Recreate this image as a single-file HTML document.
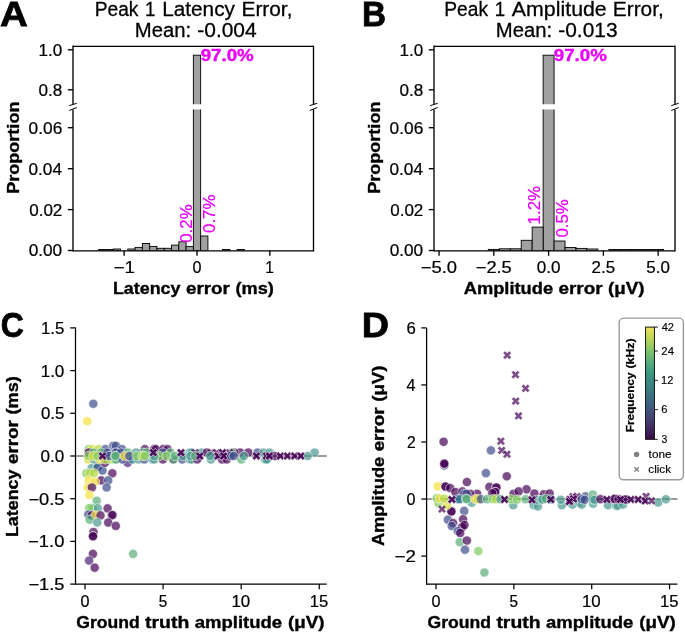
<!DOCTYPE html>
<html><head><meta charset="utf-8"><title>Peak 1 error figure</title>
<style>
html,body{margin:0;padding:0;background:#fff;}
svg{display:block;font-family:"Liberation Sans",sans-serif;will-change:transform;}
</style></head><body>
<svg width="685" height="632" viewBox="0 0 685 632">

<text x="-0.01" y="25.6" font-size="35.32" font-weight="bold" stroke="#000" stroke-width="0.77" fill="#000" textLength="27.8" lengthAdjust="spacingAndGlyphs">A</text>
<text x="362.08" y="25.6" font-size="35.32" font-weight="bold" stroke="#000" stroke-width="0.77" fill="#000" textLength="24.02" lengthAdjust="spacingAndGlyphs">B</text>
<text x="0.79" y="336.6" font-size="35.32" font-weight="bold" stroke="#000" stroke-width="0.77" fill="#000" textLength="23.15" lengthAdjust="spacingAndGlyphs">C</text>
<text x="361.87" y="336.6" font-size="35.32" font-weight="bold" stroke="#000" stroke-width="0.77" fill="#000" textLength="27.3" lengthAdjust="spacingAndGlyphs">D</text>
<text x="94.71" y="16.1" font-size="19.38" stroke="#000" stroke-width="0.27" fill="#000" textLength="43.72" lengthAdjust="spacingAndGlyphs">Peak</text>
<text x="145.02" y="16.1" font-size="19.38" stroke="#000" stroke-width="0.27" fill="#000" textLength="10.39" lengthAdjust="spacingAndGlyphs">1</text>
<text x="162.22" y="16.1" font-size="19.38" stroke="#000" stroke-width="0.27" fill="#000" textLength="72.69" lengthAdjust="spacingAndGlyphs">Latency</text>
<text x="241.47" y="16.1" font-size="19.38" stroke="#000" stroke-width="0.27" fill="#000" textLength="50.99" lengthAdjust="spacingAndGlyphs">Error,</text>
<text x="134.78" y="36.9" font-size="19.38" stroke="#000" stroke-width="0.27" fill="#000" textLength="56.32" lengthAdjust="spacingAndGlyphs">Mean:</text>
<text x="197.28" y="36.9" font-size="19.38" stroke="#000" stroke-width="0.27" fill="#000" textLength="59.4" lengthAdjust="spacingAndGlyphs">-0.004</text>
<text x="444.34" y="16.1" font-size="19.38" stroke="#000" stroke-width="0.27" fill="#000" textLength="43.72" lengthAdjust="spacingAndGlyphs">Peak</text>
<text x="494.65" y="16.1" font-size="19.38" stroke="#000" stroke-width="0.27" fill="#000" textLength="10.39" lengthAdjust="spacingAndGlyphs">1</text>
<text x="511.84" y="16.1" font-size="19.38" stroke="#000" stroke-width="0.27" fill="#000" textLength="94.92" lengthAdjust="spacingAndGlyphs">Amplitude</text>
<text x="612.84" y="16.1" font-size="19.38" stroke="#000" stroke-width="0.27" fill="#000" textLength="50.99" lengthAdjust="spacingAndGlyphs">Error,</text>
<text x="495.8" y="36.9" font-size="19.38" stroke="#000" stroke-width="0.27" fill="#000" textLength="56.32" lengthAdjust="spacingAndGlyphs">Mean:</text>
<text x="558.3" y="36.9" font-size="19.38" stroke="#000" stroke-width="0.27" fill="#000" textLength="59.25" lengthAdjust="spacingAndGlyphs">-0.013</text>
<defs><clipPath id="cu73"><rect x="73" y="46.2" width="240.5" height="58"/></clipPath><clipPath id="cl73"><rect x="73" y="109.4" width="240.5" height="141.1"/></clipPath></defs>
<g clip-path="url(#cu73)"><rect x="193.36" y="55.2" width="7.29" height="80" fill="#a0a0a0" stroke="#000" stroke-width="0.9"/></g>
<g clip-path="url(#cl73)">
<rect x="193.36" y="90" width="7.29" height="160.5" fill="#a0a0a0" stroke="#000" stroke-width="0.9"/>
<rect x="98.65" y="249.5" width="7.28" height="1" fill="#a0a0a0" stroke="#000" stroke-width="0.9"/>
<rect x="105.94" y="249.5" width="7.28" height="1" fill="#a0a0a0" stroke="#000" stroke-width="0.9"/>
<rect x="113.22" y="249" width="7.28" height="1.5" fill="#a0a0a0" stroke="#000" stroke-width="0.9"/>
<rect x="127.79" y="249" width="7.29" height="1.5" fill="#a0a0a0" stroke="#000" stroke-width="0.9"/>
<rect x="135.08" y="247.4" width="7.29" height="3.1" fill="#a0a0a0" stroke="#000" stroke-width="0.9"/>
<rect x="142.36" y="243.5" width="7.29" height="7" fill="#a0a0a0" stroke="#000" stroke-width="0.9"/>
<rect x="149.65" y="246.4" width="7.29" height="4.1" fill="#a0a0a0" stroke="#000" stroke-width="0.9"/>
<rect x="156.93" y="248.3" width="7.29" height="2.2" fill="#a0a0a0" stroke="#000" stroke-width="0.9"/>
<rect x="164.22" y="248.3" width="7.29" height="2.2" fill="#a0a0a0" stroke="#000" stroke-width="0.9"/>
<rect x="171.5" y="245.1" width="7.29" height="5.4" fill="#a0a0a0" stroke="#000" stroke-width="0.9"/>
<rect x="178.79" y="241.8" width="7.29" height="8.7" fill="#a0a0a0" stroke="#000" stroke-width="0.9"/>
<rect x="186.07" y="246.6" width="7.29" height="3.9" fill="#a0a0a0" stroke="#000" stroke-width="0.9"/>
<rect x="200.64" y="236" width="7.29" height="14.5" fill="#a0a0a0" stroke="#000" stroke-width="0.9"/>
<rect x="222.5" y="249.5" width="7.29" height="1" fill="#a0a0a0" stroke="#000" stroke-width="0.9"/>
<rect x="237.07" y="249.5" width="7.29" height="1" fill="#a0a0a0" stroke="#000" stroke-width="0.9"/>
</g>
<line x1="73" y1="46.3" x2="313.5" y2="46.3" stroke="#000" stroke-width="1.35"/>
<line x1="73" y1="45.62" x2="73" y2="104.2" stroke="#000" stroke-width="1.35"/>
<line x1="313.5" y1="45.62" x2="313.5" y2="104.2" stroke="#000" stroke-width="1.35"/>
<line x1="73" y1="109.4" x2="73" y2="251.48" stroke="#000" stroke-width="1.35"/>
<line x1="313.5" y1="109.4" x2="313.5" y2="251.48" stroke="#000" stroke-width="1.35"/>
<line x1="73" y1="250.8" x2="313.5" y2="250.8" stroke="#000" stroke-width="1.35"/>
<line x1="69.25" y1="105.6" x2="76.75" y2="103.3" stroke="#000" stroke-width="1"/>
<line x1="69.25" y1="110.5" x2="76.75" y2="107.5" stroke="#000" stroke-width="1"/>
<line x1="309.75" y1="105.6" x2="317.25" y2="103.3" stroke="#000" stroke-width="1"/>
<line x1="309.75" y1="110.5" x2="317.25" y2="107.5" stroke="#000" stroke-width="1"/>
<line x1="67.8" y1="49.8" x2="73" y2="49.8" stroke="#000" stroke-width="1.35"/>
<text x="38.48" y="55.7" font-size="16.05" stroke="#000" stroke-width="0.22" fill="#000" textLength="23.68" lengthAdjust="spacingAndGlyphs">1.0</text>
<line x1="67.8" y1="89.8" x2="73" y2="89.8" stroke="#000" stroke-width="1.35"/>
<text x="38.47" y="95.7" font-size="16.05" stroke="#000" stroke-width="0.22" fill="#000" textLength="23.78" lengthAdjust="spacingAndGlyphs">0.8</text>
<line x1="67.8" y1="127.7" x2="73" y2="127.7" stroke="#000" stroke-width="1.35"/>
<text x="28.6" y="133.6" font-size="16.05" stroke="#000" stroke-width="0.22" fill="#000" textLength="33.66" lengthAdjust="spacingAndGlyphs">0.06</text>
<line x1="67.8" y1="168.7" x2="73" y2="168.7" stroke="#000" stroke-width="1.35"/>
<text x="28.5" y="174.6" font-size="16.05" stroke="#000" stroke-width="0.22" fill="#000" textLength="33.5" lengthAdjust="spacingAndGlyphs">0.04</text>
<line x1="67.8" y1="209.6" x2="73" y2="209.6" stroke="#000" stroke-width="1.35"/>
<text x="29.18" y="215.5" font-size="16.05" stroke="#000" stroke-width="0.22" fill="#000" textLength="33.17" lengthAdjust="spacingAndGlyphs">0.02</text>
<line x1="67.8" y1="250.5" x2="73" y2="250.5" stroke="#000" stroke-width="1.35"/>
<text x="28.66" y="256.4" font-size="16.05" stroke="#000" stroke-width="0.22" fill="#000" textLength="33.51" lengthAdjust="spacingAndGlyphs">0.00</text>
<line x1="124.15" y1="250.5" x2="124.15" y2="255.8" stroke="#000" stroke-width="1.35"/>
<text x="113.42" y="273.4" font-size="16.05" stroke="#000" stroke-width="0.22" fill="#000" textLength="21.44" lengthAdjust="spacingAndGlyphs">−1</text>
<line x1="197" y1="250.5" x2="197" y2="255.8" stroke="#000" stroke-width="1.35"/>
<text x="192.5" y="273.4" font-size="16.05" stroke="#000" stroke-width="0.22" fill="#000" textLength="9" lengthAdjust="spacingAndGlyphs">0</text>
<line x1="269.85" y1="250.5" x2="269.85" y2="255.8" stroke="#000" stroke-width="1.35"/>
<text x="265.34" y="273.4" font-size="16.05" stroke="#000" stroke-width="0.22" fill="#000" textLength="8.6" lengthAdjust="spacingAndGlyphs">1</text>
<text x="112.9" y="294.1" font-size="16.05" font-weight="bold" stroke="#000" stroke-width="0.35" fill="#000" textLength="67.57" lengthAdjust="spacingAndGlyphs">Latency</text>
<text x="185.92" y="294.1" font-size="16.05" font-weight="bold" stroke="#000" stroke-width="0.35" fill="#000" textLength="44.01" lengthAdjust="spacingAndGlyphs">error</text>
<text x="235.45" y="294.1" font-size="16.05" font-weight="bold" stroke="#000" stroke-width="0.35" fill="#000" textLength="38.36" lengthAdjust="spacingAndGlyphs">(ms)</text>
<text transform="translate(18.5,193.85) rotate(-90)" x="0" y="0" font-size="16.05" font-weight="bold" stroke="#000" stroke-width="0.35" fill="#000" textLength="92.32" lengthAdjust="spacingAndGlyphs">Proportion</text>
<text x="200.65" y="60.7" font-size="16.05" font-weight="bold" stroke="#e800fa" stroke-width="0.35" fill="#e800fa" textLength="53.15" lengthAdjust="spacingAndGlyphs">97.0%</text>
<text transform="translate(191.6,242.76) rotate(-90)" x="0" y="0" font-size="16.05" stroke="#e800fa" stroke-width="0.22" fill="#e800fa" textLength="38.42" lengthAdjust="spacingAndGlyphs">0.2%</text>
<text transform="translate(215,232.96) rotate(-90)" x="0" y="0" font-size="16.05" stroke="#e800fa" stroke-width="0.22" fill="#e800fa" textLength="38.42" lengthAdjust="spacingAndGlyphs">0.7%</text>
<defs><clipPath id="cu434"><rect x="434" y="46.2" width="241" height="58"/></clipPath><clipPath id="cl434"><rect x="434" y="109.4" width="241" height="141.1"/></clipPath></defs>
<g clip-path="url(#cu434)"><rect x="543.12" y="55.2" width="10.95" height="80" fill="#a0a0a0" stroke="#000" stroke-width="0.9"/></g>
<g clip-path="url(#cl434)">
<rect x="543.12" y="90" width="10.95" height="160.5" fill="#a0a0a0" stroke="#000" stroke-width="0.9"/>
<rect x="488.35" y="249.4" width="10.96" height="1.1" fill="#a0a0a0" stroke="#000" stroke-width="0.9"/>
<rect x="499.3" y="248.8" width="10.96" height="1.7" fill="#a0a0a0" stroke="#000" stroke-width="0.9"/>
<rect x="510.26" y="248.8" width="10.95" height="1.7" fill="#a0a0a0" stroke="#000" stroke-width="0.9"/>
<rect x="521.21" y="240.3" width="10.95" height="10.2" fill="#a0a0a0" stroke="#000" stroke-width="0.9"/>
<rect x="532.17" y="227.1" width="10.95" height="23.4" fill="#a0a0a0" stroke="#000" stroke-width="0.9"/>
<rect x="554.08" y="241" width="10.95" height="9.5" fill="#a0a0a0" stroke="#000" stroke-width="0.9"/>
<rect x="565.03" y="247.5" width="10.95" height="3" fill="#a0a0a0" stroke="#000" stroke-width="0.9"/>
<rect x="575.99" y="248.4" width="10.95" height="2.1" fill="#a0a0a0" stroke="#000" stroke-width="0.9"/>
<rect x="586.94" y="249" width="10.95" height="1.5" fill="#a0a0a0" stroke="#000" stroke-width="0.9"/>
<rect x="608.85" y="249.5" width="10.95" height="1" fill="#a0a0a0" stroke="#000" stroke-width="0.9"/>
<rect x="619.81" y="249.5" width="10.95" height="1" fill="#a0a0a0" stroke="#000" stroke-width="0.9"/>
<rect x="630.76" y="249.5" width="10.95" height="1" fill="#a0a0a0" stroke="#000" stroke-width="0.9"/>
<rect x="641.72" y="249.5" width="10.95" height="1" fill="#a0a0a0" stroke="#000" stroke-width="0.9"/>
<rect x="652.67" y="249.5" width="10.95" height="1" fill="#a0a0a0" stroke="#000" stroke-width="0.9"/>
</g>
<line x1="434" y1="46.3" x2="675" y2="46.3" stroke="#000" stroke-width="1.35"/>
<line x1="434" y1="45.62" x2="434" y2="104.2" stroke="#000" stroke-width="1.35"/>
<line x1="675" y1="45.62" x2="675" y2="104.2" stroke="#000" stroke-width="1.35"/>
<line x1="434" y1="109.4" x2="434" y2="251.48" stroke="#000" stroke-width="1.35"/>
<line x1="675" y1="109.4" x2="675" y2="251.48" stroke="#000" stroke-width="1.35"/>
<line x1="434" y1="250.8" x2="675" y2="250.8" stroke="#000" stroke-width="1.35"/>
<line x1="430.25" y1="105.6" x2="437.75" y2="103.3" stroke="#000" stroke-width="1"/>
<line x1="430.25" y1="110.5" x2="437.75" y2="107.5" stroke="#000" stroke-width="1"/>
<line x1="671.25" y1="105.6" x2="678.75" y2="103.3" stroke="#000" stroke-width="1"/>
<line x1="671.25" y1="110.5" x2="678.75" y2="107.5" stroke="#000" stroke-width="1"/>
<line x1="428.8" y1="49.8" x2="434" y2="49.8" stroke="#000" stroke-width="1.35"/>
<text x="399.48" y="55.7" font-size="16.05" stroke="#000" stroke-width="0.22" fill="#000" textLength="23.68" lengthAdjust="spacingAndGlyphs">1.0</text>
<line x1="428.8" y1="89.8" x2="434" y2="89.8" stroke="#000" stroke-width="1.35"/>
<text x="399.47" y="95.7" font-size="16.05" stroke="#000" stroke-width="0.22" fill="#000" textLength="23.78" lengthAdjust="spacingAndGlyphs">0.8</text>
<line x1="428.8" y1="127.7" x2="434" y2="127.7" stroke="#000" stroke-width="1.35"/>
<text x="389.6" y="133.6" font-size="16.05" stroke="#000" stroke-width="0.22" fill="#000" textLength="33.66" lengthAdjust="spacingAndGlyphs">0.06</text>
<line x1="428.8" y1="168.7" x2="434" y2="168.7" stroke="#000" stroke-width="1.35"/>
<text x="389.5" y="174.6" font-size="16.05" stroke="#000" stroke-width="0.22" fill="#000" textLength="33.5" lengthAdjust="spacingAndGlyphs">0.04</text>
<line x1="428.8" y1="209.6" x2="434" y2="209.6" stroke="#000" stroke-width="1.35"/>
<text x="390.18" y="215.5" font-size="16.05" stroke="#000" stroke-width="0.22" fill="#000" textLength="33.17" lengthAdjust="spacingAndGlyphs">0.02</text>
<line x1="428.8" y1="250.5" x2="434" y2="250.5" stroke="#000" stroke-width="1.35"/>
<text x="389.66" y="256.4" font-size="16.05" stroke="#000" stroke-width="0.22" fill="#000" textLength="33.51" lengthAdjust="spacingAndGlyphs">0.00</text>
<line x1="439.05" y1="250.5" x2="439.05" y2="255.8" stroke="#000" stroke-width="1.35"/>
<text x="420.82" y="273.4" font-size="16.05" stroke="#000" stroke-width="0.22" fill="#000" textLength="36.27" lengthAdjust="spacingAndGlyphs">−5.0</text>
<line x1="493.83" y1="250.5" x2="493.83" y2="255.8" stroke="#000" stroke-width="1.35"/>
<text x="475.76" y="273.4" font-size="16.05" stroke="#000" stroke-width="0.22" fill="#000" textLength="35.99" lengthAdjust="spacingAndGlyphs">−2.5</text>
<line x1="548.6" y1="250.5" x2="548.6" y2="255.8" stroke="#000" stroke-width="1.35"/>
<text x="536.74" y="273.4" font-size="16.05" stroke="#000" stroke-width="0.22" fill="#000" textLength="23.73" lengthAdjust="spacingAndGlyphs">0.0</text>
<line x1="603.38" y1="250.5" x2="603.38" y2="255.8" stroke="#000" stroke-width="1.35"/>
<text x="591.54" y="273.4" font-size="16.05" stroke="#000" stroke-width="0.22" fill="#000" textLength="23.52" lengthAdjust="spacingAndGlyphs">2.5</text>
<line x1="658.15" y1="250.5" x2="658.15" y2="255.8" stroke="#000" stroke-width="1.35"/>
<text x="646.36" y="273.4" font-size="16.05" stroke="#000" stroke-width="0.22" fill="#000" textLength="23.56" lengthAdjust="spacingAndGlyphs">5.0</text>
<text x="463.73" y="294.1" font-size="16.05" font-weight="bold" stroke="#000" stroke-width="0.35" fill="#000" textLength="89.37" lengthAdjust="spacingAndGlyphs">Amplitude</text>
<text x="558.49" y="294.1" font-size="16.05" font-weight="bold" stroke="#000" stroke-width="0.35" fill="#000" textLength="44.01" lengthAdjust="spacingAndGlyphs">error</text>
<text x="607.99" y="294.1" font-size="16.05" font-weight="bold" stroke="#000" stroke-width="0.35" fill="#000" textLength="36.46" lengthAdjust="spacingAndGlyphs">(μV)</text>
<text transform="translate(379.5,193.85) rotate(-90)" x="0" y="0" font-size="16.05" font-weight="bold" stroke="#000" stroke-width="0.35" fill="#000" textLength="92.32" lengthAdjust="spacingAndGlyphs">Proportion</text>
<text x="553.75" y="60.7" font-size="16.05" font-weight="bold" stroke="#e800fa" stroke-width="0.35" fill="#e800fa" textLength="53.15" lengthAdjust="spacingAndGlyphs">97.0%</text>
<text transform="translate(540.4,224.38) rotate(-90)" x="0" y="0" font-size="16.05" stroke="#e800fa" stroke-width="0.22" fill="#e800fa" textLength="38.37" lengthAdjust="spacingAndGlyphs">1.2%</text>
<text transform="translate(568.1,237.56) rotate(-90)" x="0" y="0" font-size="16.05" stroke="#e800fa" stroke-width="0.22" fill="#e800fa" textLength="38.42" lengthAdjust="spacingAndGlyphs">0.5%</text>
<line x1="75.5" y1="456" x2="326.7" y2="456" stroke="#000" stroke-width="1.15" stroke-opacity="0.78"/>
<line x1="75.5" y1="327.4" x2="75.5" y2="584.62" stroke="#000" stroke-width="1.25"/>
<line x1="74.88" y1="584" x2="326.7" y2="584" stroke="#000" stroke-width="1.25"/>
<line x1="70.2" y1="327.9" x2="75.5" y2="327.9" stroke="#000" stroke-width="1.25"/>
<text x="41.02" y="333.8" font-size="16.05" stroke="#000" stroke-width="0.22" fill="#000" textLength="23.39" lengthAdjust="spacingAndGlyphs">1.5</text>
<line x1="70.2" y1="370.6" x2="75.5" y2="370.6" stroke="#000" stroke-width="1.25"/>
<text x="40.68" y="376.5" font-size="16.05" stroke="#000" stroke-width="0.22" fill="#000" textLength="23.68" lengthAdjust="spacingAndGlyphs">1.0</text>
<line x1="70.2" y1="413.3" x2="75.5" y2="413.3" stroke="#000" stroke-width="1.25"/>
<text x="40.97" y="419.2" font-size="16.05" stroke="#000" stroke-width="0.22" fill="#000" textLength="23.44" lengthAdjust="spacingAndGlyphs">0.5</text>
<line x1="70.2" y1="456" x2="75.5" y2="456" stroke="#000" stroke-width="1.25"/>
<text x="40.64" y="461.9" font-size="16.05" stroke="#000" stroke-width="0.22" fill="#000" textLength="23.73" lengthAdjust="spacingAndGlyphs">0.0</text>
<line x1="70.2" y1="498.7" x2="75.5" y2="498.7" stroke="#000" stroke-width="1.25"/>
<text x="28.47" y="504.6" font-size="16.05" stroke="#000" stroke-width="0.22" fill="#000" textLength="35.99" lengthAdjust="spacingAndGlyphs">−0.5</text>
<line x1="70.2" y1="541.4" x2="75.5" y2="541.4" stroke="#000" stroke-width="1.25"/>
<text x="28.14" y="547.3" font-size="16.05" stroke="#000" stroke-width="0.22" fill="#000" textLength="36.27" lengthAdjust="spacingAndGlyphs">−1.0</text>
<line x1="70.2" y1="584.1" x2="75.5" y2="584.1" stroke="#000" stroke-width="1.25"/>
<text x="28.47" y="590" font-size="16.05" stroke="#000" stroke-width="0.22" fill="#000" textLength="35.99" lengthAdjust="spacingAndGlyphs">−1.5</text>
<line x1="85" y1="584" x2="85" y2="589.3" stroke="#000" stroke-width="1.25"/>
<text x="80.5" y="606.8" font-size="16.05" stroke="#000" stroke-width="0.22" fill="#000" textLength="9" lengthAdjust="spacingAndGlyphs">0</text>
<line x1="163.1" y1="584" x2="163.1" y2="589.3" stroke="#000" stroke-width="1.25"/>
<text x="158.87" y="606.8" font-size="16.05" stroke="#000" stroke-width="0.22" fill="#000" textLength="8.5" lengthAdjust="spacingAndGlyphs">5</text>
<line x1="241.2" y1="584" x2="241.2" y2="589.3" stroke="#000" stroke-width="1.25"/>
<text x="231.49" y="606.8" font-size="16.05" stroke="#000" stroke-width="0.22" fill="#000" textLength="18.78" lengthAdjust="spacingAndGlyphs">10</text>
<line x1="319.3" y1="584" x2="319.3" y2="589.3" stroke="#000" stroke-width="1.25"/>
<text x="309.78" y="606.8" font-size="16.05" stroke="#000" stroke-width="0.22" fill="#000" textLength="18.48" lengthAdjust="spacingAndGlyphs">15</text>
<text x="76.23" y="627.6" font-size="16.05" font-weight="bold" stroke="#000" stroke-width="0.35" fill="#000" textLength="63.42" lengthAdjust="spacingAndGlyphs">Ground</text>
<text x="145.1" y="627.6" font-size="16.05" font-weight="bold" stroke="#000" stroke-width="0.35" fill="#000" textLength="44.17" lengthAdjust="spacingAndGlyphs">truth</text>
<text x="194.73" y="627.6" font-size="16.05" font-weight="bold" stroke="#000" stroke-width="0.35" fill="#000" textLength="87.36" lengthAdjust="spacingAndGlyphs">amplitude</text>
<text x="287.93" y="627.6" font-size="16.05" font-weight="bold" stroke="#000" stroke-width="0.35" fill="#000" textLength="36.46" lengthAdjust="spacingAndGlyphs">(μV)</text>
<text transform="translate(18.4,537.1) rotate(-90)" x="0" y="0" font-size="16.05" font-weight="bold" stroke="#000" stroke-width="0.35" fill="#000" textLength="67.57" lengthAdjust="spacingAndGlyphs">Latency</text>
<text transform="translate(18.4,464.08) rotate(-90)" x="0" y="0" font-size="16.05" font-weight="bold" stroke="#000" stroke-width="0.35" fill="#000" textLength="44.01" lengthAdjust="spacingAndGlyphs">error</text>
<text transform="translate(18.4,414.55) rotate(-90)" x="0" y="0" font-size="16.05" font-weight="bold" stroke="#000" stroke-width="0.35" fill="#000" textLength="38.36" lengthAdjust="spacingAndGlyphs">(ms)</text>
<circle cx="91.6" cy="468.1" r="4.6" fill="#4a9a90" fill-opacity="0.7" stroke="#fff" stroke-opacity="0.75" stroke-width="0.75"/>
<circle cx="97.8" cy="467.1" r="4.6" fill="#4a9a90" fill-opacity="0.7" stroke="#fff" stroke-opacity="0.75" stroke-width="0.75"/>
<circle cx="97.8" cy="467.1" r="4.6" fill="#3c4c8a" fill-opacity="0.7" stroke="#fff" stroke-opacity="0.75" stroke-width="0.75"/>
<circle cx="102.5" cy="470.4" r="4.6" fill="#3c4c8a" fill-opacity="0.7" stroke="#fff" stroke-opacity="0.75" stroke-width="0.75"/>
<circle cx="86.4" cy="473.3" r="4.6" fill="#80cc5e" fill-opacity="0.7" stroke="#fff" stroke-opacity="0.75" stroke-width="0.75"/>
<circle cx="89.7" cy="473.3" r="4.6" fill="#b0d840" fill-opacity="0.7" stroke="#fff" stroke-opacity="0.75" stroke-width="0.75"/>
<circle cx="94" cy="473.3" r="4.6" fill="#b0d840" fill-opacity="0.7" stroke="#fff" stroke-opacity="0.75" stroke-width="0.75"/>
<circle cx="112.3" cy="473.3" r="4.6" fill="#440154" fill-opacity="0.7" stroke="#fff" stroke-opacity="0.75" stroke-width="0.75"/>
<circle cx="88.8" cy="480.4" r="4.6" fill="#f5df3c" fill-opacity="0.7" stroke="#fff" stroke-opacity="0.75" stroke-width="0.75"/>
<circle cx="101.1" cy="480.4" r="4.6" fill="#440154" fill-opacity="0.7" stroke="#fff" stroke-opacity="0.75" stroke-width="0.75"/>
<circle cx="108.2" cy="480.4" r="4.6" fill="#3c4c8a" fill-opacity="0.7" stroke="#fff" stroke-opacity="0.75" stroke-width="0.75"/>
<circle cx="95" cy="481.8" r="4.6" fill="#f5df3c" fill-opacity="0.7" stroke="#fff" stroke-opacity="0.75" stroke-width="0.75"/>
<circle cx="87.8" cy="487.5" r="4.6" fill="#f5df3c" fill-opacity="0.7" stroke="#fff" stroke-opacity="0.75" stroke-width="0.75"/>
<circle cx="91.9" cy="487.5" r="4.6" fill="#440154" fill-opacity="0.7" stroke="#fff" stroke-opacity="0.75" stroke-width="0.75"/>
<circle cx="106.6" cy="487.5" r="4.6" fill="#3c4c8a" fill-opacity="0.7" stroke="#fff" stroke-opacity="0.75" stroke-width="0.75"/>
<circle cx="89.4" cy="495.1" r="4.6" fill="#f5df3c" fill-opacity="0.7" stroke="#fff" stroke-opacity="0.75" stroke-width="0.75"/>
<circle cx="96.7" cy="500.8" r="4.6" fill="#5aae78" fill-opacity="0.7" stroke="#fff" stroke-opacity="0.75" stroke-width="0.75"/>
<circle cx="92.6" cy="508" r="4.6" fill="#5aae78" fill-opacity="0.7" stroke="#fff" stroke-opacity="0.75" stroke-width="0.75"/>
<circle cx="97.8" cy="508.4" r="4.6" fill="#4a9a90" fill-opacity="0.7" stroke="#fff" stroke-opacity="0.75" stroke-width="0.75"/>
<circle cx="89.2" cy="508" r="4.6" fill="#80cc5e" fill-opacity="0.7" stroke="#fff" stroke-opacity="0.75" stroke-width="0.75"/>
<circle cx="107.6" cy="508.4" r="4.6" fill="#440154" fill-opacity="0.7" stroke="#fff" stroke-opacity="0.75" stroke-width="0.75"/>
<circle cx="88.3" cy="514.5" r="4.6" fill="#3c4c8a" fill-opacity="0.7" stroke="#fff" stroke-opacity="0.75" stroke-width="0.75"/>
<circle cx="91.6" cy="515.4" r="4.6" fill="#440154" fill-opacity="0.7" stroke="#fff" stroke-opacity="0.75" stroke-width="0.75"/>
<circle cx="95.4" cy="515.4" r="4.6" fill="#f5df3c" fill-opacity="0.7" stroke="#fff" stroke-opacity="0.75" stroke-width="0.75"/>
<circle cx="100.5" cy="515.4" r="4.6" fill="#440154" fill-opacity="0.7" stroke="#fff" stroke-opacity="0.75" stroke-width="0.75"/>
<circle cx="111.6" cy="515.4" r="4.6" fill="#440154" fill-opacity="0.7" stroke="#fff" stroke-opacity="0.75" stroke-width="0.75"/>
<circle cx="112.5" cy="515" r="4.6" fill="#440154" fill-opacity="0.7" stroke="#fff" stroke-opacity="0.75" stroke-width="0.75"/>
<circle cx="89.7" cy="519.7" r="4.6" fill="#5aae78" fill-opacity="0.7" stroke="#fff" stroke-opacity="0.75" stroke-width="0.75"/>
<circle cx="97.3" cy="522.6" r="4.6" fill="#4a9a90" fill-opacity="0.7" stroke="#fff" stroke-opacity="0.75" stroke-width="0.75"/>
<circle cx="108.2" cy="522.6" r="4.6" fill="#440154" fill-opacity="0.7" stroke="#fff" stroke-opacity="0.75" stroke-width="0.75"/>
<circle cx="115.8" cy="525.9" r="4.6" fill="#440154" fill-opacity="0.7" stroke="#fff" stroke-opacity="0.75" stroke-width="0.75"/>
<circle cx="93.5" cy="532.1" r="4.6" fill="#440154" fill-opacity="0.7" stroke="#fff" stroke-opacity="0.75" stroke-width="0.75"/>
<circle cx="93" cy="536.3" r="4.6" fill="#440154" fill-opacity="0.7" stroke="#fff" stroke-opacity="0.75" stroke-width="0.75"/>
<circle cx="93" cy="536.3" r="4.6" fill="#440154" fill-opacity="0.7" stroke="#fff" stroke-opacity="0.75" stroke-width="0.75"/>
<circle cx="92.9" cy="553.9" r="4.6" fill="#440154" fill-opacity="0.7" stroke="#fff" stroke-opacity="0.75" stroke-width="0.75"/>
<circle cx="89.1" cy="560.6" r="4.6" fill="#482475" fill-opacity="0.7" stroke="#fff" stroke-opacity="0.75" stroke-width="0.75"/>
<circle cx="94.7" cy="567.7" r="4.6" fill="#440154" fill-opacity="0.7" stroke="#fff" stroke-opacity="0.75" stroke-width="0.75"/>
<circle cx="133.1" cy="553.9" r="4.6" fill="#5aae78" fill-opacity="0.7" stroke="#fff" stroke-opacity="0.75" stroke-width="0.75"/>
<circle cx="93.3" cy="403.8" r="4.6" fill="#3c4c8a" fill-opacity="0.7" stroke="#fff" stroke-opacity="0.75" stroke-width="0.75"/>
<circle cx="87.2" cy="421.2" r="4.6" fill="#f5df3c" fill-opacity="0.7" stroke="#fff" stroke-opacity="0.75" stroke-width="0.75"/>
<circle cx="113.3" cy="445.8" r="4.6" fill="#3c4c8a" fill-opacity="0.7" stroke="#fff" stroke-opacity="0.75" stroke-width="0.75"/>
<circle cx="115.9" cy="445.8" r="4.6" fill="#3c4c8a" fill-opacity="0.7" stroke="#fff" stroke-opacity="0.75" stroke-width="0.75"/>
<circle cx="88.6" cy="449.2" r="4.6" fill="#80cc5e" fill-opacity="0.7" stroke="#fff" stroke-opacity="0.75" stroke-width="0.75"/>
<circle cx="92.3" cy="449.2" r="4.6" fill="#d8df30" fill-opacity="0.7" stroke="#fff" stroke-opacity="0.75" stroke-width="0.75"/>
<circle cx="98.7" cy="449.2" r="4.6" fill="#b0d840" fill-opacity="0.7" stroke="#fff" stroke-opacity="0.75" stroke-width="0.75"/>
<circle cx="105.4" cy="449.2" r="4.6" fill="#3c4c8a" fill-opacity="0.7" stroke="#fff" stroke-opacity="0.75" stroke-width="0.75"/>
<circle cx="122" cy="449.2" r="4.6" fill="#3c4c8a" fill-opacity="0.7" stroke="#fff" stroke-opacity="0.75" stroke-width="0.75"/>
<circle cx="144.8" cy="449.2" r="4.6" fill="#440154" fill-opacity="0.7" stroke="#fff" stroke-opacity="0.75" stroke-width="0.75"/>
<circle cx="154.1" cy="449.2" r="4.6" fill="#440154" fill-opacity="0.7" stroke="#fff" stroke-opacity="0.75" stroke-width="0.75"/>
<circle cx="155.9" cy="449.2" r="4.6" fill="#440154" fill-opacity="0.7" stroke="#fff" stroke-opacity="0.75" stroke-width="0.75"/>
<circle cx="163.2" cy="449.2" r="4.6" fill="#440154" fill-opacity="0.7" stroke="#fff" stroke-opacity="0.75" stroke-width="0.75"/>
<circle cx="167.6" cy="449.2" r="4.6" fill="#440154" fill-opacity="0.7" stroke="#fff" stroke-opacity="0.75" stroke-width="0.75"/>
<circle cx="127.6" cy="462.8" r="4.6" fill="#482475" fill-opacity="0.7" stroke="#fff" stroke-opacity="0.75" stroke-width="0.75"/>
<circle cx="104.9" cy="462.8" r="4.6" fill="#440154" fill-opacity="0.7" stroke="#fff" stroke-opacity="0.75" stroke-width="0.75"/>
<circle cx="88.2" cy="459.4" r="4.6" fill="#d8df30" fill-opacity="0.7" stroke="#fff" stroke-opacity="0.75" stroke-width="0.75"/>
<circle cx="94.1" cy="459.4" r="4.6" fill="#4a9a90" fill-opacity="0.7" stroke="#fff" stroke-opacity="0.75" stroke-width="0.75"/>
<circle cx="99.6" cy="459.4" r="4.6" fill="#f5df3c" fill-opacity="0.7" stroke="#fff" stroke-opacity="0.75" stroke-width="0.75"/>
<circle cx="105.2" cy="459.4" r="4.6" fill="#b0d840" fill-opacity="0.7" stroke="#fff" stroke-opacity="0.75" stroke-width="0.75"/>
<circle cx="110.7" cy="459.4" r="4.6" fill="#b0d840" fill-opacity="0.7" stroke="#fff" stroke-opacity="0.75" stroke-width="0.75"/>
<circle cx="115.4" cy="459.4" r="4.6" fill="#5aae78" fill-opacity="0.7" stroke="#fff" stroke-opacity="0.75" stroke-width="0.75"/>
<circle cx="116.2" cy="459.4" r="4.6" fill="#5aae78" fill-opacity="0.7" stroke="#fff" stroke-opacity="0.75" stroke-width="0.75"/>
<circle cx="122.3" cy="459.4" r="4.6" fill="#3c4c8a" fill-opacity="0.7" stroke="#fff" stroke-opacity="0.75" stroke-width="0.75"/>
<circle cx="132.5" cy="459.4" r="4.6" fill="#287c8e" fill-opacity="0.7" stroke="#fff" stroke-opacity="0.75" stroke-width="0.75"/>
<circle cx="138.4" cy="459.4" r="4.6" fill="#4a9a90" fill-opacity="0.7" stroke="#fff" stroke-opacity="0.75" stroke-width="0.75"/>
<circle cx="144.2" cy="459.4" r="4.6" fill="#3c4c8a" fill-opacity="0.7" stroke="#fff" stroke-opacity="0.75" stroke-width="0.75"/>
<circle cx="152.4" cy="459.4" r="4.6" fill="#4a9a90" fill-opacity="0.7" stroke="#fff" stroke-opacity="0.75" stroke-width="0.75"/>
<circle cx="154.2" cy="459.4" r="4.6" fill="#4a9a90" fill-opacity="0.7" stroke="#fff" stroke-opacity="0.75" stroke-width="0.75"/>
<circle cx="162.9" cy="459.4" r="4.6" fill="#440154" fill-opacity="0.7" stroke="#fff" stroke-opacity="0.75" stroke-width="0.75"/>
<circle cx="173.1" cy="459.4" r="4.6" fill="#440154" fill-opacity="0.7" stroke="#fff" stroke-opacity="0.75" stroke-width="0.75"/>
<circle cx="182.2" cy="459.4" r="4.6" fill="#3c4c8a" fill-opacity="0.7" stroke="#fff" stroke-opacity="0.75" stroke-width="0.75"/>
<circle cx="189.8" cy="459.4" r="4.6" fill="#4a9a90" fill-opacity="0.7" stroke="#fff" stroke-opacity="0.75" stroke-width="0.75"/>
<circle cx="173.4" cy="459.4" r="4.6" fill="#5aae78" fill-opacity="0.7" stroke="#fff" stroke-opacity="0.75" stroke-width="0.75"/>
<circle cx="210.9" cy="459.4" r="4.6" fill="#4a9a90" fill-opacity="0.7" stroke="#fff" stroke-opacity="0.75" stroke-width="0.75"/>
<circle cx="191.6" cy="459.4" r="4.6" fill="#4a9a90" fill-opacity="0.7" stroke="#fff" stroke-opacity="0.75" stroke-width="0.75"/>
<circle cx="197.1" cy="459.4" r="4.6" fill="#440154" fill-opacity="0.7" stroke="#fff" stroke-opacity="0.75" stroke-width="0.75"/>
<circle cx="222" cy="459.4" r="4.6" fill="#440154" fill-opacity="0.7" stroke="#fff" stroke-opacity="0.75" stroke-width="0.75"/>
<circle cx="226.6" cy="459.4" r="4.6" fill="#440154" fill-opacity="0.7" stroke="#fff" stroke-opacity="0.75" stroke-width="0.75"/>
<circle cx="241.3" cy="459.4" r="4.6" fill="#5aae78" fill-opacity="0.7" stroke="#fff" stroke-opacity="0.75" stroke-width="0.75"/>
<circle cx="266.4" cy="459.4" r="4.6" fill="#4a9a90" fill-opacity="0.7" stroke="#fff" stroke-opacity="0.75" stroke-width="0.75"/>
<circle cx="265.2" cy="459.4" r="4.6" fill="#4a9a90" fill-opacity="0.7" stroke="#fff" stroke-opacity="0.75" stroke-width="0.75"/>
<circle cx="266.9" cy="459.4" r="4.6" fill="#4a9a90" fill-opacity="0.7" stroke="#fff" stroke-opacity="0.75" stroke-width="0.75"/>
<circle cx="88.8" cy="452.6" r="4.6" fill="#440154" fill-opacity="0.7" stroke="#fff" stroke-opacity="0.75" stroke-width="0.75"/>
<circle cx="93.5" cy="452.6" r="4.6" fill="#5aae78" fill-opacity="0.7" stroke="#fff" stroke-opacity="0.75" stroke-width="0.75"/>
<circle cx="101.1" cy="452.6" r="4.6" fill="#5aae78" fill-opacity="0.7" stroke="#fff" stroke-opacity="0.75" stroke-width="0.75"/>
<circle cx="107.2" cy="452.6" r="4.6" fill="#3c4c8a" fill-opacity="0.7" stroke="#fff" stroke-opacity="0.75" stroke-width="0.75"/>
<circle cx="115.4" cy="452.6" r="4.6" fill="#3c4c8a" fill-opacity="0.7" stroke="#fff" stroke-opacity="0.75" stroke-width="0.75"/>
<circle cx="116.2" cy="452.6" r="4.6" fill="#3c4c8a" fill-opacity="0.7" stroke="#fff" stroke-opacity="0.75" stroke-width="0.75"/>
<circle cx="120.8" cy="452.6" r="4.6" fill="#3c4c8a" fill-opacity="0.7" stroke="#fff" stroke-opacity="0.75" stroke-width="0.75"/>
<circle cx="127.8" cy="452.6" r="4.6" fill="#5aae78" fill-opacity="0.7" stroke="#fff" stroke-opacity="0.75" stroke-width="0.75"/>
<circle cx="142.4" cy="452.6" r="4.6" fill="#5aae78" fill-opacity="0.7" stroke="#fff" stroke-opacity="0.75" stroke-width="0.75"/>
<circle cx="146.5" cy="452.6" r="4.6" fill="#5aae78" fill-opacity="0.7" stroke="#fff" stroke-opacity="0.75" stroke-width="0.75"/>
<circle cx="136" cy="452.6" r="4.6" fill="#4a9a90" fill-opacity="0.7" stroke="#fff" stroke-opacity="0.75" stroke-width="0.75"/>
<circle cx="162.9" cy="452.6" r="4.6" fill="#3c4c8a" fill-opacity="0.7" stroke="#fff" stroke-opacity="0.75" stroke-width="0.75"/>
<circle cx="170.5" cy="452.6" r="4.6" fill="#5aae78" fill-opacity="0.7" stroke="#fff" stroke-opacity="0.75" stroke-width="0.75"/>
<circle cx="189.5" cy="452.6" r="4.6" fill="#4a9a90" fill-opacity="0.7" stroke="#fff" stroke-opacity="0.75" stroke-width="0.75"/>
<circle cx="191.6" cy="452.6" r="4.6" fill="#4a9a90" fill-opacity="0.7" stroke="#fff" stroke-opacity="0.75" stroke-width="0.75"/>
<circle cx="201.5" cy="452.6" r="4.6" fill="#4a9a90" fill-opacity="0.7" stroke="#fff" stroke-opacity="0.75" stroke-width="0.75"/>
<circle cx="206.8" cy="452.6" r="4.6" fill="#440154" fill-opacity="0.7" stroke="#fff" stroke-opacity="0.75" stroke-width="0.75"/>
<circle cx="240.1" cy="452.6" r="4.6" fill="#440154" fill-opacity="0.7" stroke="#fff" stroke-opacity="0.75" stroke-width="0.75"/>
<circle cx="248.3" cy="452.6" r="4.6" fill="#440154" fill-opacity="0.7" stroke="#fff" stroke-opacity="0.75" stroke-width="0.75"/>
<circle cx="234.3" cy="452.6" r="4.6" fill="#440154" fill-opacity="0.7" stroke="#fff" stroke-opacity="0.75" stroke-width="0.75"/>
<circle cx="257.6" cy="452.6" r="4.6" fill="#3c4c8a" fill-opacity="0.7" stroke="#fff" stroke-opacity="0.75" stroke-width="0.75"/>
<circle cx="263.5" cy="452.6" r="4.6" fill="#4a9a90" fill-opacity="0.7" stroke="#fff" stroke-opacity="0.75" stroke-width="0.75"/>
<circle cx="231.9" cy="452.6" r="4.6" fill="#5aae78" fill-opacity="0.7" stroke="#fff" stroke-opacity="0.75" stroke-width="0.75"/>
<circle cx="269.5" cy="452.6" r="4.6" fill="#4a9a90" fill-opacity="0.7" stroke="#fff" stroke-opacity="0.75" stroke-width="0.75"/>
<circle cx="314.6" cy="452.6" r="4.6" fill="#4a9a90" fill-opacity="0.7" stroke="#fff" stroke-opacity="0.75" stroke-width="0.75"/>
<polygon points="199.31,454.69 197.19,456.81 195.1,454.72 193.01,456.81 190.89,454.69 192.98,452.6 190.89,450.51 193.01,448.39 195.1,450.48 197.19,448.39 199.31,450.51 197.22,452.6" fill="#440154" fill-opacity="0.7" stroke="#fff" stroke-opacity="0.7" stroke-width="0.6"/>
<polygon points="215.31,454.69 213.19,456.81 211.1,454.72 209.01,456.81 206.89,454.69 208.98,452.6 206.89,450.51 209.01,448.39 211.1,450.48 213.19,448.39 215.31,450.51 213.22,452.6" fill="#440154" fill-opacity="0.7" stroke="#fff" stroke-opacity="0.7" stroke-width="0.6"/>
<polygon points="220.91,454.69 218.79,456.81 216.7,454.72 214.61,456.81 212.49,454.69 214.58,452.6 212.49,450.51 214.61,448.39 216.7,450.48 218.79,448.39 220.91,450.51 218.82,452.6" fill="#440154" fill-opacity="0.7" stroke="#fff" stroke-opacity="0.7" stroke-width="0.6"/>
<polygon points="233.71,454.69 231.59,456.81 229.5,454.72 227.41,456.81 225.29,454.69 227.38,452.6 225.29,450.51 227.41,448.39 229.5,450.48 231.59,448.39 233.71,450.51 231.62,452.6" fill="#440154" fill-opacity="0.7" stroke="#fff" stroke-opacity="0.7" stroke-width="0.6"/>
<circle cx="88.3" cy="456" r="4.6" fill="#80cc5e" fill-opacity="0.7" stroke="#fff" stroke-opacity="0.75" stroke-width="0.75"/>
<circle cx="93.2" cy="456" r="4.6" fill="#d8df30" fill-opacity="0.7" stroke="#fff" stroke-opacity="0.75" stroke-width="0.75"/>
<circle cx="97.5" cy="456" r="4.6" fill="#80cc5e" fill-opacity="0.7" stroke="#fff" stroke-opacity="0.75" stroke-width="0.75"/>
<circle cx="109" cy="456" r="4.6" fill="#3c4c8a" fill-opacity="0.7" stroke="#fff" stroke-opacity="0.75" stroke-width="0.75"/>
<circle cx="115.1" cy="456" r="4.6" fill="#5aae78" fill-opacity="0.7" stroke="#fff" stroke-opacity="0.75" stroke-width="0.75"/>
<circle cx="115.6" cy="456" r="4.6" fill="#5aae78" fill-opacity="0.7" stroke="#fff" stroke-opacity="0.75" stroke-width="0.75"/>
<circle cx="124.6" cy="456" r="4.6" fill="#f5df3c" fill-opacity="0.7" stroke="#fff" stroke-opacity="0.75" stroke-width="0.75"/>
<circle cx="129.3" cy="456" r="4.6" fill="#3c4c8a" fill-opacity="0.7" stroke="#fff" stroke-opacity="0.75" stroke-width="0.75"/>
<circle cx="136.6" cy="456" r="4.6" fill="#80cc5e" fill-opacity="0.7" stroke="#fff" stroke-opacity="0.75" stroke-width="0.75"/>
<circle cx="142.4" cy="456" r="4.6" fill="#b0d840" fill-opacity="0.7" stroke="#fff" stroke-opacity="0.75" stroke-width="0.75"/>
<circle cx="144.8" cy="456" r="4.6" fill="#80cc5e" fill-opacity="0.7" stroke="#fff" stroke-opacity="0.75" stroke-width="0.75"/>
<circle cx="159.4" cy="456" r="4.6" fill="#80cc5e" fill-opacity="0.7" stroke="#fff" stroke-opacity="0.75" stroke-width="0.75"/>
<circle cx="166.4" cy="456" r="4.6" fill="#80cc5e" fill-opacity="0.7" stroke="#fff" stroke-opacity="0.75" stroke-width="0.75"/>
<circle cx="174.9" cy="456" r="4.6" fill="#5aae78" fill-opacity="0.7" stroke="#fff" stroke-opacity="0.75" stroke-width="0.75"/>
<circle cx="182.8" cy="456" r="4.6" fill="#4a9a90" fill-opacity="0.7" stroke="#fff" stroke-opacity="0.75" stroke-width="0.75"/>
<circle cx="190.4" cy="456" r="4.6" fill="#4a9a90" fill-opacity="0.7" stroke="#fff" stroke-opacity="0.75" stroke-width="0.75"/>
<circle cx="154.2" cy="456" r="4.6" fill="#4a9a90" fill-opacity="0.7" stroke="#fff" stroke-opacity="0.75" stroke-width="0.75"/>
<circle cx="210.3" cy="456" r="4.6" fill="#4a9a90" fill-opacity="0.7" stroke="#fff" stroke-opacity="0.75" stroke-width="0.75"/>
<circle cx="195.1" cy="456" r="4.6" fill="#5aae78" fill-opacity="0.7" stroke="#fff" stroke-opacity="0.75" stroke-width="0.75"/>
<circle cx="230.7" cy="456" r="4.6" fill="#3c4c8a" fill-opacity="0.7" stroke="#fff" stroke-opacity="0.75" stroke-width="0.75"/>
<circle cx="233.7" cy="456" r="4.6" fill="#3c4c8a" fill-opacity="0.7" stroke="#fff" stroke-opacity="0.75" stroke-width="0.75"/>
<circle cx="243.9" cy="456" r="4.6" fill="#4a9a90" fill-opacity="0.7" stroke="#fff" stroke-opacity="0.75" stroke-width="0.75"/>
<circle cx="274.8" cy="456" r="4.6" fill="#440154" fill-opacity="0.7" stroke="#fff" stroke-opacity="0.75" stroke-width="0.75"/>
<circle cx="307.6" cy="456" r="4.6" fill="#4a9a90" fill-opacity="0.7" stroke="#fff" stroke-opacity="0.75" stroke-width="0.75"/>
<polygon points="106.71,458.09 104.59,460.21 102.5,458.12 100.41,460.21 98.29,458.09 100.38,456 98.29,453.91 100.41,451.79 102.5,453.88 104.59,451.79 106.71,453.91 104.62,456" fill="#440154" fill-opacity="0.7" stroke="#fff" stroke-opacity="0.7" stroke-width="0.6"/>
<polygon points="106.71,458.09 104.59,460.21 102.5,458.12 100.41,460.21 98.29,458.09 100.38,456 98.29,453.91 100.41,451.79 102.5,453.88 104.59,451.79 106.71,453.91 104.62,456" fill="#440154" fill-opacity="0.7" stroke="#fff" stroke-opacity="0.7" stroke-width="0.6"/>
<polygon points="157.51,454.69 155.39,456.81 153.3,454.72 151.21,456.81 149.09,454.69 151.18,452.6 149.09,450.51 151.21,448.39 153.3,450.48 155.39,448.39 157.51,450.51 155.42,452.6" fill="#440154" fill-opacity="0.7" stroke="#fff" stroke-opacity="0.7" stroke-width="0.6"/>
<polygon points="157.51,454.69 155.39,456.81 153.3,454.72 151.21,456.81 149.09,454.69 151.18,452.6 149.09,450.51 151.21,448.39 153.3,450.48 155.39,448.39 157.51,450.51 155.42,452.6" fill="#440154" fill-opacity="0.7" stroke="#fff" stroke-opacity="0.7" stroke-width="0.6"/>
<polygon points="185.21,454.69 183.09,456.81 181,454.72 178.91,456.81 176.79,454.69 178.88,452.6 176.79,450.51 178.91,448.39 181,450.48 183.09,448.39 185.21,450.51 183.12,452.6" fill="#440154" fill-opacity="0.7" stroke="#fff" stroke-opacity="0.7" stroke-width="0.6"/>
<polygon points="185.21,454.69 183.09,456.81 181,454.72 178.91,456.81 176.79,454.69 178.88,452.6 176.79,450.51 178.91,448.39 181,450.48 183.09,448.39 185.21,450.51 183.12,452.6" fill="#440154" fill-opacity="0.7" stroke="#fff" stroke-opacity="0.7" stroke-width="0.6"/>
<polygon points="204.01,458.09 201.89,460.21 199.8,458.12 197.71,460.21 195.59,458.09 197.68,456 195.59,453.91 197.71,451.79 199.8,453.88 201.89,451.79 204.01,453.91 201.92,456" fill="#440154" fill-opacity="0.7" stroke="#fff" stroke-opacity="0.7" stroke-width="0.6"/>
<polygon points="204.01,458.09 201.89,460.21 199.8,458.12 197.71,460.21 195.59,458.09 197.68,456 195.59,453.91 197.71,451.79 199.8,453.88 201.89,451.79 204.01,453.91 201.92,456" fill="#440154" fill-opacity="0.7" stroke="#fff" stroke-opacity="0.7" stroke-width="0.6"/>
<polygon points="224.41,458.09 222.29,460.21 220.2,458.12 218.11,460.21 215.99,458.09 218.08,456 215.99,453.91 218.11,451.79 220.2,453.88 222.29,451.79 224.41,453.91 222.32,456" fill="#440154" fill-opacity="0.7" stroke="#fff" stroke-opacity="0.7" stroke-width="0.6"/>
<polygon points="224.41,458.09 222.29,460.21 220.2,458.12 218.11,460.21 215.99,458.09 218.08,456 215.99,453.91 218.11,451.79 220.2,453.88 222.29,451.79 224.41,453.91 222.32,456" fill="#440154" fill-opacity="0.7" stroke="#fff" stroke-opacity="0.7" stroke-width="0.6"/>
<polygon points="222.11,458.09 219.99,460.21 217.9,458.12 215.81,460.21 213.69,458.09 215.78,456 213.69,453.91 215.81,451.79 217.9,453.88 219.99,451.79 222.11,453.91 220.02,456" fill="#440154" fill-opacity="0.7" stroke="#fff" stroke-opacity="0.7" stroke-width="0.6"/>
<polygon points="222.11,458.09 219.99,460.21 217.9,458.12 215.81,460.21 213.69,458.09 215.78,456 213.69,453.91 215.81,451.79 217.9,453.88 219.99,451.79 222.11,453.91 220.02,456" fill="#440154" fill-opacity="0.7" stroke="#fff" stroke-opacity="0.7" stroke-width="0.6"/>
<polygon points="226.71,454.69 224.59,456.81 222.5,454.72 220.41,456.81 218.29,454.69 220.38,452.6 218.29,450.51 220.41,448.39 222.5,450.48 224.59,448.39 226.71,450.51 224.62,452.6" fill="#440154" fill-opacity="0.7" stroke="#fff" stroke-opacity="0.7" stroke-width="0.6"/>
<polygon points="226.71,454.69 224.59,456.81 222.5,454.72 220.41,456.81 218.29,454.69 220.38,452.6 218.29,450.51 220.41,448.39 222.5,450.48 224.59,448.39 226.71,450.51 224.62,452.6" fill="#440154" fill-opacity="0.7" stroke="#fff" stroke-opacity="0.7" stroke-width="0.6"/>
<polygon points="227.91,458.09 225.79,460.21 223.7,458.12 221.61,460.21 219.49,458.09 221.58,456 219.49,453.91 221.61,451.79 223.7,453.88 225.79,451.79 227.91,453.91 225.82,456" fill="#440154" fill-opacity="0.7" stroke="#fff" stroke-opacity="0.7" stroke-width="0.6"/>
<polygon points="227.91,458.09 225.79,460.21 223.7,458.12 221.61,460.21 219.49,458.09 221.58,456 219.49,453.91 221.61,451.79 223.7,453.88 225.79,451.79 227.91,453.91 225.82,456" fill="#440154" fill-opacity="0.7" stroke="#fff" stroke-opacity="0.7" stroke-width="0.6"/>
<polygon points="260.61,458.09 258.49,460.21 256.4,458.12 254.31,460.21 252.19,458.09 254.28,456 252.19,453.91 254.31,451.79 256.4,453.88 258.49,451.79 260.61,453.91 258.52,456" fill="#440154" fill-opacity="0.7" stroke="#fff" stroke-opacity="0.7" stroke-width="0.6"/>
<polygon points="260.61,458.09 258.49,460.21 256.4,458.12 254.31,460.21 252.19,458.09 254.28,456 252.19,453.91 254.31,451.79 256.4,453.88 258.49,451.79 260.61,453.91 258.52,456" fill="#440154" fill-opacity="0.7" stroke="#fff" stroke-opacity="0.7" stroke-width="0.6"/>
<polygon points="270.61,458.09 268.49,460.21 266.4,458.12 264.31,460.21 262.19,458.09 264.28,456 262.19,453.91 264.31,451.79 266.4,453.88 268.49,451.79 270.61,453.91 268.52,456" fill="#440154" fill-opacity="0.7" stroke="#fff" stroke-opacity="0.7" stroke-width="0.6"/>
<polygon points="270.61,458.09 268.49,460.21 266.4,458.12 264.31,460.21 262.19,458.09 264.28,456 262.19,453.91 264.31,451.79 266.4,453.88 268.49,451.79 270.61,453.91 268.52,456" fill="#440154" fill-opacity="0.7" stroke="#fff" stroke-opacity="0.7" stroke-width="0.6"/>
<polygon points="273.51,458.09 271.39,460.21 269.3,458.12 267.21,460.21 265.09,458.09 267.18,456 265.09,453.91 267.21,451.79 269.3,453.88 271.39,451.79 273.51,453.91 271.42,456" fill="#440154" fill-opacity="0.7" stroke="#fff" stroke-opacity="0.7" stroke-width="0.6"/>
<polygon points="273.51,458.09 271.39,460.21 269.3,458.12 267.21,460.21 265.09,458.09 267.18,456 265.09,453.91 267.21,451.79 269.3,453.88 271.39,451.79 273.51,453.91 271.42,456" fill="#440154" fill-opacity="0.7" stroke="#fff" stroke-opacity="0.7" stroke-width="0.6"/>
<polygon points="284.61,458.09 282.49,460.21 280.4,458.12 278.31,460.21 276.19,458.09 278.28,456 276.19,453.91 278.31,451.79 280.4,453.88 282.49,451.79 284.61,453.91 282.52,456" fill="#440154" fill-opacity="0.7" stroke="#fff" stroke-opacity="0.7" stroke-width="0.6"/>
<polygon points="284.61,458.09 282.49,460.21 280.4,458.12 278.31,460.21 276.19,458.09 278.28,456 276.19,453.91 278.31,451.79 280.4,453.88 282.49,451.79 284.61,453.91 282.52,456" fill="#440154" fill-opacity="0.7" stroke="#fff" stroke-opacity="0.7" stroke-width="0.6"/>
<polygon points="291.61,458.09 289.49,460.21 287.4,458.12 285.31,460.21 283.19,458.09 285.28,456 283.19,453.91 285.31,451.79 287.4,453.88 289.49,451.79 291.61,453.91 289.52,456" fill="#440154" fill-opacity="0.7" stroke="#fff" stroke-opacity="0.7" stroke-width="0.6"/>
<polygon points="291.61,458.09 289.49,460.21 287.4,458.12 285.31,460.21 283.19,458.09 285.28,456 283.19,453.91 285.31,451.79 287.4,453.88 289.49,451.79 291.61,453.91 289.52,456" fill="#440154" fill-opacity="0.7" stroke="#fff" stroke-opacity="0.7" stroke-width="0.6"/>
<polygon points="298.91,458.09 296.79,460.21 294.7,458.12 292.61,460.21 290.49,458.09 292.58,456 290.49,453.91 292.61,451.79 294.7,453.88 296.79,451.79 298.91,453.91 296.82,456" fill="#440154" fill-opacity="0.7" stroke="#fff" stroke-opacity="0.7" stroke-width="0.6"/>
<polygon points="298.91,458.09 296.79,460.21 294.7,458.12 292.61,460.21 290.49,458.09 292.58,456 290.49,453.91 292.61,451.79 294.7,453.88 296.79,451.79 298.91,453.91 296.82,456" fill="#440154" fill-opacity="0.7" stroke="#fff" stroke-opacity="0.7" stroke-width="0.6"/>
<polygon points="305.01,458.09 302.89,460.21 300.8,458.12 298.71,460.21 296.59,458.09 298.68,456 296.59,453.91 298.71,451.79 300.8,453.88 302.89,451.79 305.01,453.91 302.92,456" fill="#440154" fill-opacity="0.7" stroke="#fff" stroke-opacity="0.7" stroke-width="0.6"/>
<polygon points="305.01,458.09 302.89,460.21 300.8,458.12 298.71,460.21 296.59,458.09 298.68,456 296.59,453.91 298.71,451.79 300.8,453.88 302.89,451.79 305.01,453.91 302.92,456" fill="#440154" fill-opacity="0.7" stroke="#fff" stroke-opacity="0.7" stroke-width="0.6"/>
<line x1="426.6" y1="499" x2="677.5" y2="499" stroke="#000" stroke-width="1.15" stroke-opacity="0.78"/>
<line x1="426.6" y1="327.9" x2="426.6" y2="584.62" stroke="#000" stroke-width="1.25"/>
<line x1="425.98" y1="584" x2="677.5" y2="584" stroke="#000" stroke-width="1.25"/>
<line x1="421.3" y1="327.9" x2="426.6" y2="327.9" stroke="#000" stroke-width="1.25"/>
<text x="406.42" y="333.8" font-size="16.05" stroke="#000" stroke-width="0.22" fill="#000" textLength="9.32" lengthAdjust="spacingAndGlyphs">6</text>
<line x1="421.3" y1="384.95" x2="426.6" y2="384.95" stroke="#000" stroke-width="1.25"/>
<text x="406.47" y="390.85" font-size="16.05" stroke="#000" stroke-width="0.22" fill="#000" textLength="9.01" lengthAdjust="spacingAndGlyphs">4</text>
<line x1="421.3" y1="442" x2="426.6" y2="442" stroke="#000" stroke-width="1.25"/>
<text x="407.11" y="447.9" font-size="16.05" stroke="#000" stroke-width="0.22" fill="#000" textLength="8.68" lengthAdjust="spacingAndGlyphs">2</text>
<line x1="421.3" y1="499.05" x2="426.6" y2="499.05" stroke="#000" stroke-width="1.25"/>
<text x="406.63" y="504.95" font-size="16.05" stroke="#000" stroke-width="0.22" fill="#000" textLength="9" lengthAdjust="spacingAndGlyphs">0</text>
<line x1="421.3" y1="556.1" x2="426.6" y2="556.1" stroke="#000" stroke-width="1.25"/>
<text x="394.6" y="562" font-size="16.05" stroke="#000" stroke-width="0.22" fill="#000" textLength="21.34" lengthAdjust="spacingAndGlyphs">−2</text>
<line x1="436" y1="584" x2="436" y2="589.3" stroke="#000" stroke-width="1.25"/>
<text x="431.5" y="606.8" font-size="16.05" stroke="#000" stroke-width="0.22" fill="#000" textLength="9" lengthAdjust="spacingAndGlyphs">0</text>
<line x1="513.85" y1="584" x2="513.85" y2="589.3" stroke="#000" stroke-width="1.25"/>
<text x="509.62" y="606.8" font-size="16.05" stroke="#000" stroke-width="0.22" fill="#000" textLength="8.5" lengthAdjust="spacingAndGlyphs">5</text>
<line x1="591.7" y1="584" x2="591.7" y2="589.3" stroke="#000" stroke-width="1.25"/>
<text x="581.99" y="606.8" font-size="16.05" stroke="#000" stroke-width="0.22" fill="#000" textLength="18.78" lengthAdjust="spacingAndGlyphs">10</text>
<line x1="669.55" y1="584" x2="669.55" y2="589.3" stroke="#000" stroke-width="1.25"/>
<text x="660.03" y="606.8" font-size="16.05" stroke="#000" stroke-width="0.22" fill="#000" textLength="18.48" lengthAdjust="spacingAndGlyphs">15</text>
<text x="427.53" y="627.6" font-size="16.05" font-weight="bold" stroke="#000" stroke-width="0.35" fill="#000" textLength="63.42" lengthAdjust="spacingAndGlyphs">Ground</text>
<text x="496.4" y="627.6" font-size="16.05" font-weight="bold" stroke="#000" stroke-width="0.35" fill="#000" textLength="44.17" lengthAdjust="spacingAndGlyphs">truth</text>
<text x="546.03" y="627.6" font-size="16.05" font-weight="bold" stroke="#000" stroke-width="0.35" fill="#000" textLength="87.36" lengthAdjust="spacingAndGlyphs">amplitude</text>
<text x="639.23" y="627.6" font-size="16.05" font-weight="bold" stroke="#000" stroke-width="0.35" fill="#000" textLength="36.46" lengthAdjust="spacingAndGlyphs">(μV)</text>
<text transform="translate(384,546.12) rotate(-90)" x="0" y="0" font-size="16.05" font-weight="bold" stroke="#000" stroke-width="0.35" fill="#000" textLength="89.37" lengthAdjust="spacingAndGlyphs">Amplitude</text>
<text transform="translate(384,451.36) rotate(-90)" x="0" y="0" font-size="16.05" font-weight="bold" stroke="#000" stroke-width="0.35" fill="#000" textLength="44.01" lengthAdjust="spacingAndGlyphs">error</text>
<text transform="translate(384,401.86) rotate(-90)" x="0" y="0" font-size="16.05" font-weight="bold" stroke="#000" stroke-width="0.35" fill="#000" textLength="36.46" lengthAdjust="spacingAndGlyphs">(μV)</text>
<circle cx="443.6" cy="441.8" r="4.6" fill="#440154" fill-opacity="0.7" stroke="#fff" stroke-opacity="0.75" stroke-width="0.75"/>
<circle cx="444.3" cy="465.6" r="4.6" fill="#3c4c8a" fill-opacity="0.7" stroke="#fff" stroke-opacity="0.75" stroke-width="0.75"/>
<circle cx="444.3" cy="463.7" r="4.6" fill="#440154" fill-opacity="0.7" stroke="#fff" stroke-opacity="0.75" stroke-width="0.75"/>
<circle cx="444.3" cy="463.7" r="4.6" fill="#440154" fill-opacity="0.7" stroke="#fff" stroke-opacity="0.75" stroke-width="0.75"/>
<circle cx="490.9" cy="450.4" r="4.6" fill="#3c4c8a" fill-opacity="0.7" stroke="#fff" stroke-opacity="0.75" stroke-width="0.75"/>
<circle cx="485.9" cy="473.2" r="4.6" fill="#3c4c8a" fill-opacity="0.7" stroke="#fff" stroke-opacity="0.75" stroke-width="0.75"/>
<circle cx="506.8" cy="476.3" r="4.6" fill="#440154" fill-opacity="0.7" stroke="#fff" stroke-opacity="0.75" stroke-width="0.75"/>
<circle cx="466.9" cy="482" r="4.6" fill="#440154" fill-opacity="0.7" stroke="#fff" stroke-opacity="0.75" stroke-width="0.75"/>
<circle cx="437.6" cy="486.3" r="4.6" fill="#f5df3c" fill-opacity="0.7" stroke="#fff" stroke-opacity="0.75" stroke-width="0.75"/>
<circle cx="445.5" cy="486.6" r="4.6" fill="#440154" fill-opacity="0.7" stroke="#fff" stroke-opacity="0.75" stroke-width="0.75"/>
<circle cx="445.5" cy="486.6" r="4.6" fill="#440154" fill-opacity="0.7" stroke="#fff" stroke-opacity="0.75" stroke-width="0.75"/>
<circle cx="450.2" cy="488.1" r="4.6" fill="#440154" fill-opacity="0.7" stroke="#fff" stroke-opacity="0.75" stroke-width="0.75"/>
<circle cx="489.4" cy="486.9" r="4.6" fill="#440154" fill-opacity="0.7" stroke="#fff" stroke-opacity="0.75" stroke-width="0.75"/>
<circle cx="496.4" cy="487.5" r="4.6" fill="#440154" fill-opacity="0.7" stroke="#fff" stroke-opacity="0.75" stroke-width="0.75"/>
<circle cx="496.4" cy="487.5" r="4.6" fill="#440154" fill-opacity="0.7" stroke="#fff" stroke-opacity="0.75" stroke-width="0.75"/>
<circle cx="526.5" cy="489.3" r="4.6" fill="#440154" fill-opacity="0.7" stroke="#fff" stroke-opacity="0.75" stroke-width="0.75"/>
<circle cx="451.4" cy="511.4" r="4.6" fill="#440154" fill-opacity="0.7" stroke="#fff" stroke-opacity="0.75" stroke-width="0.75"/>
<circle cx="451.4" cy="511.4" r="4.6" fill="#440154" fill-opacity="0.7" stroke="#fff" stroke-opacity="0.75" stroke-width="0.75"/>
<circle cx="464.2" cy="510.9" r="4.6" fill="#3c4c8a" fill-opacity="0.7" stroke="#fff" stroke-opacity="0.75" stroke-width="0.75"/>
<circle cx="447.9" cy="519.7" r="4.6" fill="#3c4c8a" fill-opacity="0.7" stroke="#fff" stroke-opacity="0.75" stroke-width="0.75"/>
<circle cx="453.1" cy="523.1" r="4.6" fill="#440154" fill-opacity="0.7" stroke="#fff" stroke-opacity="0.75" stroke-width="0.75"/>
<circle cx="451.7" cy="525.9" r="4.6" fill="#3c4c8a" fill-opacity="0.7" stroke="#fff" stroke-opacity="0.75" stroke-width="0.75"/>
<circle cx="463.1" cy="519.3" r="4.6" fill="#440154" fill-opacity="0.7" stroke="#fff" stroke-opacity="0.75" stroke-width="0.75"/>
<circle cx="462.1" cy="527.3" r="4.6" fill="#440154" fill-opacity="0.7" stroke="#fff" stroke-opacity="0.75" stroke-width="0.75"/>
<circle cx="462.1" cy="527.3" r="4.6" fill="#440154" fill-opacity="0.7" stroke="#fff" stroke-opacity="0.75" stroke-width="0.75"/>
<circle cx="464.5" cy="525" r="4.6" fill="#440154" fill-opacity="0.7" stroke="#fff" stroke-opacity="0.75" stroke-width="0.75"/>
<circle cx="457.8" cy="531.1" r="4.6" fill="#3c4c8a" fill-opacity="0.7" stroke="#fff" stroke-opacity="0.75" stroke-width="0.75"/>
<circle cx="460.2" cy="533" r="4.6" fill="#440154" fill-opacity="0.7" stroke="#fff" stroke-opacity="0.75" stroke-width="0.75"/>
<circle cx="459.7" cy="542.1" r="4.6" fill="#5aae78" fill-opacity="0.7" stroke="#fff" stroke-opacity="0.75" stroke-width="0.75"/>
<circle cx="466.9" cy="540.6" r="4.6" fill="#440154" fill-opacity="0.7" stroke="#fff" stroke-opacity="0.75" stroke-width="0.75"/>
<circle cx="465" cy="549.7" r="4.6" fill="#3c4c8a" fill-opacity="0.7" stroke="#fff" stroke-opacity="0.75" stroke-width="0.75"/>
<circle cx="478.3" cy="551.1" r="4.6" fill="#80cc5e" fill-opacity="0.7" stroke="#fff" stroke-opacity="0.75" stroke-width="0.75"/>
<circle cx="484.4" cy="572.5" r="4.6" fill="#5aae78" fill-opacity="0.7" stroke="#fff" stroke-opacity="0.75" stroke-width="0.75"/>
<circle cx="455.4" cy="492" r="4.6" fill="#440154" fill-opacity="0.7" stroke="#fff" stroke-opacity="0.75" stroke-width="0.75"/>
<circle cx="462.5" cy="491.4" r="4.6" fill="#440154" fill-opacity="0.7" stroke="#fff" stroke-opacity="0.75" stroke-width="0.75"/>
<circle cx="464.2" cy="493.8" r="4.6" fill="#3c4c8a" fill-opacity="0.7" stroke="#fff" stroke-opacity="0.75" stroke-width="0.75"/>
<circle cx="495.2" cy="492" r="4.6" fill="#440154" fill-opacity="0.7" stroke="#fff" stroke-opacity="0.75" stroke-width="0.75"/>
<circle cx="495.2" cy="492" r="4.6" fill="#440154" fill-opacity="0.7" stroke="#fff" stroke-opacity="0.75" stroke-width="0.75"/>
<circle cx="492.3" cy="493.2" r="4.6" fill="#440154" fill-opacity="0.7" stroke="#fff" stroke-opacity="0.75" stroke-width="0.75"/>
<circle cx="477.1" cy="493.8" r="4.6" fill="#440154" fill-opacity="0.7" stroke="#fff" stroke-opacity="0.75" stroke-width="0.75"/>
<circle cx="470.1" cy="493.8" r="4.6" fill="#440154" fill-opacity="0.7" stroke="#fff" stroke-opacity="0.75" stroke-width="0.75"/>
<circle cx="466.6" cy="493.8" r="4.6" fill="#3c4c8a" fill-opacity="0.7" stroke="#fff" stroke-opacity="0.75" stroke-width="0.75"/>
<circle cx="513.6" cy="493.8" r="4.6" fill="#440154" fill-opacity="0.7" stroke="#fff" stroke-opacity="0.75" stroke-width="0.75"/>
<circle cx="518.6" cy="491.4" r="4.6" fill="#440154" fill-opacity="0.7" stroke="#fff" stroke-opacity="0.75" stroke-width="0.75"/>
<circle cx="534.4" cy="493.5" r="4.6" fill="#440154" fill-opacity="0.7" stroke="#fff" stroke-opacity="0.75" stroke-width="0.75"/>
<circle cx="543.7" cy="494.3" r="4.6" fill="#440154" fill-opacity="0.7" stroke="#fff" stroke-opacity="0.75" stroke-width="0.75"/>
<circle cx="549.6" cy="493.5" r="4.6" fill="#440154" fill-opacity="0.7" stroke="#fff" stroke-opacity="0.75" stroke-width="0.75"/>
<circle cx="585.5" cy="496.4" r="4.6" fill="#3c4c8a" fill-opacity="0.7" stroke="#fff" stroke-opacity="0.75" stroke-width="0.75"/>
<circle cx="592.8" cy="494.6" r="4.6" fill="#5aae78" fill-opacity="0.7" stroke="#fff" stroke-opacity="0.75" stroke-width="0.75"/>
<circle cx="438.2" cy="502.9" r="4.6" fill="#80cc5e" fill-opacity="0.7" stroke="#fff" stroke-opacity="0.75" stroke-width="0.75"/>
<circle cx="446.7" cy="505.2" r="4.6" fill="#d8df30" fill-opacity="0.7" stroke="#fff" stroke-opacity="0.75" stroke-width="0.75"/>
<circle cx="513.3" cy="505.2" r="4.6" fill="#4a9a90" fill-opacity="0.7" stroke="#fff" stroke-opacity="0.75" stroke-width="0.75"/>
<circle cx="533.8" cy="505.2" r="4.6" fill="#4a9a90" fill-opacity="0.7" stroke="#fff" stroke-opacity="0.75" stroke-width="0.75"/>
<circle cx="537.9" cy="506.4" r="4.6" fill="#4a9a90" fill-opacity="0.7" stroke="#fff" stroke-opacity="0.75" stroke-width="0.75"/>
<circle cx="561.9" cy="505.2" r="4.6" fill="#4a9a90" fill-opacity="0.7" stroke="#fff" stroke-opacity="0.75" stroke-width="0.75"/>
<circle cx="572.4" cy="504.6" r="4.6" fill="#4a9a90" fill-opacity="0.7" stroke="#fff" stroke-opacity="0.75" stroke-width="0.75"/>
<circle cx="579.4" cy="502.9" r="4.6" fill="#4a9a90" fill-opacity="0.7" stroke="#fff" stroke-opacity="0.75" stroke-width="0.75"/>
<circle cx="581.8" cy="504.6" r="4.6" fill="#4a9a90" fill-opacity="0.7" stroke="#fff" stroke-opacity="0.75" stroke-width="0.75"/>
<circle cx="593.1" cy="503.7" r="4.6" fill="#4a9a90" fill-opacity="0.7" stroke="#fff" stroke-opacity="0.75" stroke-width="0.75"/>
<circle cx="608" cy="505.2" r="4.6" fill="#4a9a90" fill-opacity="0.7" stroke="#fff" stroke-opacity="0.75" stroke-width="0.75"/>
<circle cx="616.2" cy="505.8" r="4.6" fill="#4a9a90" fill-opacity="0.7" stroke="#fff" stroke-opacity="0.75" stroke-width="0.75"/>
<circle cx="617.8" cy="505.8" r="4.6" fill="#4a9a90" fill-opacity="0.7" stroke="#fff" stroke-opacity="0.75" stroke-width="0.75"/>
<circle cx="623" cy="504.6" r="4.6" fill="#4a9a90" fill-opacity="0.7" stroke="#fff" stroke-opacity="0.75" stroke-width="0.75"/>
<circle cx="658.1" cy="502.5" r="4.6" fill="#4a9a90" fill-opacity="0.7" stroke="#fff" stroke-opacity="0.75" stroke-width="0.75"/>
<polygon points="547.71,498.59 545.59,500.71 543.5,498.62 541.41,500.71 539.29,498.59 541.38,496.5 539.29,494.41 541.41,492.29 543.5,494.38 545.59,492.29 547.71,494.41 545.62,496.5" fill="#440154" fill-opacity="0.7" stroke="#fff" stroke-opacity="0.7" stroke-width="0.6"/>
<polygon points="577.21,498.59 575.09,500.71 573,498.62 570.91,500.71 568.79,498.59 570.88,496.5 568.79,494.41 570.91,492.29 573,494.38 575.09,492.29 577.21,494.41 575.12,496.5" fill="#440154" fill-opacity="0.7" stroke="#fff" stroke-opacity="0.7" stroke-width="0.6"/>
<polygon points="581.21,498.59 579.09,500.71 577,498.62 574.91,500.71 572.79,498.59 574.88,496.5 572.79,494.41 574.91,492.29 577,494.38 579.09,492.29 581.21,494.41 579.12,496.5" fill="#440154" fill-opacity="0.7" stroke="#fff" stroke-opacity="0.7" stroke-width="0.6"/>
<circle cx="471.8" cy="502.7" r="4.6" fill="#4a9a90" fill-opacity="0.7" stroke="#fff" stroke-opacity="0.75" stroke-width="0.75"/>
<circle cx="436.8" cy="498" r="4.6" fill="#80cc5e" fill-opacity="0.7" stroke="#fff" stroke-opacity="0.75" stroke-width="0.75"/>
<circle cx="439.7" cy="498.6" r="4.6" fill="#f5df3c" fill-opacity="0.7" stroke="#fff" stroke-opacity="0.75" stroke-width="0.75"/>
<circle cx="444.1" cy="498.6" r="4.6" fill="#b0d840" fill-opacity="0.7" stroke="#fff" stroke-opacity="0.75" stroke-width="0.75"/>
<circle cx="457.8" cy="499.2" r="4.6" fill="#3c4c8a" fill-opacity="0.7" stroke="#fff" stroke-opacity="0.75" stroke-width="0.75"/>
<circle cx="459.8" cy="499.2" r="4.6" fill="#287c8e" fill-opacity="0.7" stroke="#fff" stroke-opacity="0.75" stroke-width="0.75"/>
<circle cx="466" cy="498.6" r="4.6" fill="#5aae78" fill-opacity="0.7" stroke="#fff" stroke-opacity="0.75" stroke-width="0.75"/>
<circle cx="466.6" cy="499.2" r="4.6" fill="#5aae78" fill-opacity="0.7" stroke="#fff" stroke-opacity="0.75" stroke-width="0.75"/>
<circle cx="475.3" cy="499.2" r="4.6" fill="#f5df3c" fill-opacity="0.7" stroke="#fff" stroke-opacity="0.75" stroke-width="0.75"/>
<circle cx="477.7" cy="499.2" r="4.6" fill="#d8df30" fill-opacity="0.7" stroke="#fff" stroke-opacity="0.75" stroke-width="0.75"/>
<circle cx="480.9" cy="499.2" r="4.6" fill="#3c4c8a" fill-opacity="0.7" stroke="#fff" stroke-opacity="0.75" stroke-width="0.75"/>
<circle cx="487" cy="499.2" r="4.6" fill="#5aae78" fill-opacity="0.7" stroke="#fff" stroke-opacity="0.75" stroke-width="0.75"/>
<circle cx="492.9" cy="499.2" r="4.6" fill="#80cc5e" fill-opacity="0.7" stroke="#fff" stroke-opacity="0.75" stroke-width="0.75"/>
<circle cx="495.8" cy="499.2" r="4.6" fill="#b0d840" fill-opacity="0.7" stroke="#fff" stroke-opacity="0.75" stroke-width="0.75"/>
<circle cx="500.5" cy="499.2" r="4.6" fill="#4a9a90" fill-opacity="0.7" stroke="#fff" stroke-opacity="0.75" stroke-width="0.75"/>
<circle cx="511" cy="499.2" r="4.6" fill="#80cc5e" fill-opacity="0.7" stroke="#fff" stroke-opacity="0.75" stroke-width="0.75"/>
<circle cx="517.1" cy="499.5" r="4.6" fill="#80cc5e" fill-opacity="0.7" stroke="#fff" stroke-opacity="0.75" stroke-width="0.75"/>
<circle cx="525.6" cy="499.2" r="4.6" fill="#5aae78" fill-opacity="0.7" stroke="#fff" stroke-opacity="0.75" stroke-width="0.75"/>
<circle cx="536.7" cy="499.8" r="4.6" fill="#4a9a90" fill-opacity="0.7" stroke="#fff" stroke-opacity="0.75" stroke-width="0.75"/>
<circle cx="541.4" cy="499.8" r="4.6" fill="#4a9a90" fill-opacity="0.7" stroke="#fff" stroke-opacity="0.75" stroke-width="0.75"/>
<circle cx="542.6" cy="499.5" r="4.6" fill="#4a9a90" fill-opacity="0.7" stroke="#fff" stroke-opacity="0.75" stroke-width="0.75"/>
<circle cx="545.8" cy="498.9" r="4.6" fill="#5aae78" fill-opacity="0.7" stroke="#fff" stroke-opacity="0.75" stroke-width="0.75"/>
<circle cx="551" cy="499.4" r="4.6" fill="#4a9a90" fill-opacity="0.7" stroke="#fff" stroke-opacity="0.75" stroke-width="0.75"/>
<circle cx="560.7" cy="499.8" r="4.6" fill="#4a9a90" fill-opacity="0.7" stroke="#fff" stroke-opacity="0.75" stroke-width="0.75"/>
<circle cx="581.7" cy="499.2" r="4.6" fill="#3c4c8a" fill-opacity="0.7" stroke="#fff" stroke-opacity="0.75" stroke-width="0.75"/>
<circle cx="584.7" cy="499.8" r="4.6" fill="#3c4c8a" fill-opacity="0.7" stroke="#fff" stroke-opacity="0.75" stroke-width="0.75"/>
<circle cx="592.6" cy="499.2" r="4.6" fill="#4a9a90" fill-opacity="0.7" stroke="#fff" stroke-opacity="0.75" stroke-width="0.75"/>
<circle cx="594.6" cy="499.8" r="4.6" fill="#4a9a90" fill-opacity="0.7" stroke="#fff" stroke-opacity="0.75" stroke-width="0.75"/>
<circle cx="600.4" cy="499.2" r="4.6" fill="#440154" fill-opacity="0.7" stroke="#fff" stroke-opacity="0.75" stroke-width="0.75"/>
<circle cx="614.5" cy="498.9" r="4.6" fill="#440154" fill-opacity="0.7" stroke="#fff" stroke-opacity="0.75" stroke-width="0.75"/>
<circle cx="614.5" cy="498.9" r="4.6" fill="#440154" fill-opacity="0.7" stroke="#fff" stroke-opacity="0.75" stroke-width="0.75"/>
<circle cx="618.5" cy="499.2" r="4.6" fill="#440154" fill-opacity="0.7" stroke="#fff" stroke-opacity="0.75" stroke-width="0.75"/>
<circle cx="625.6" cy="499.5" r="4.6" fill="#440154" fill-opacity="0.7" stroke="#fff" stroke-opacity="0.75" stroke-width="0.75"/>
<circle cx="625.6" cy="499.5" r="4.6" fill="#440154" fill-opacity="0.7" stroke="#fff" stroke-opacity="0.75" stroke-width="0.75"/>
<circle cx="665.9" cy="499.3" r="4.6" fill="#4a9a90" fill-opacity="0.7" stroke="#fff" stroke-opacity="0.75" stroke-width="0.75"/>
<polygon points="511.41,357.29 509.29,359.41 507.2,357.32 505.11,359.41 502.99,357.29 505.08,355.2 502.99,353.11 505.11,350.99 507.2,353.08 509.29,350.99 511.41,353.11 509.32,355.2" fill="#440154" fill-opacity="0.7" stroke="#fff" stroke-opacity="0.7" stroke-width="0.6"/>
<polygon points="519.71,376.79 517.59,378.91 515.5,376.82 513.41,378.91 511.29,376.79 513.38,374.7 511.29,372.61 513.41,370.49 515.5,372.58 517.59,370.49 519.71,372.61 517.62,374.7" fill="#440154" fill-opacity="0.7" stroke="#fff" stroke-opacity="0.7" stroke-width="0.6"/>
<polygon points="529.81,390.49 527.69,392.61 525.6,390.52 523.51,392.61 521.39,390.49 523.48,388.4 521.39,386.31 523.51,384.19 525.6,386.28 527.69,384.19 529.81,386.31 527.72,388.4" fill="#440154" fill-opacity="0.7" stroke="#fff" stroke-opacity="0.7" stroke-width="0.6"/>
<polygon points="519.91,403.19 517.79,405.31 515.7,403.22 513.61,405.31 511.49,403.19 513.58,401.1 511.49,399.01 513.61,396.89 515.7,398.98 517.79,396.89 519.91,399.01 517.82,401.1" fill="#440154" fill-opacity="0.7" stroke="#fff" stroke-opacity="0.7" stroke-width="0.6"/>
<polygon points="522.71,417.99 520.59,420.11 518.5,418.02 516.41,420.11 514.29,417.99 516.38,415.9 514.29,413.81 516.41,411.69 518.5,413.78 520.59,411.69 522.71,413.81 520.62,415.9" fill="#440154" fill-opacity="0.7" stroke="#fff" stroke-opacity="0.7" stroke-width="0.6"/>
<polygon points="505.11,443.29 502.99,445.41 500.9,443.32 498.81,445.41 496.69,443.29 498.78,441.2 496.69,439.11 498.81,436.99 500.9,439.08 502.99,436.99 505.11,439.11 503.02,441.2" fill="#440154" fill-opacity="0.7" stroke="#fff" stroke-opacity="0.7" stroke-width="0.6"/>
<polygon points="505.91,452.49 503.79,454.61 501.7,452.52 499.61,454.61 497.49,452.49 499.58,450.4 497.49,448.31 499.61,446.19 501.7,448.28 503.79,446.19 505.91,448.31 503.82,450.4" fill="#440154" fill-opacity="0.7" stroke="#fff" stroke-opacity="0.7" stroke-width="0.6"/>
<polygon points="511.21,456.29 509.09,458.41 507,456.32 504.91,458.41 502.79,456.29 504.88,454.2 502.79,452.11 504.91,449.99 507,452.08 509.09,449.99 511.21,452.11 509.12,454.2" fill="#440154" fill-opacity="0.7" stroke="#fff" stroke-opacity="0.7" stroke-width="0.6"/>
<polygon points="446.21,511.19 444.09,513.31 442,511.22 439.91,513.31 437.79,511.19 439.88,509.1 437.79,507.01 439.91,504.89 442,506.98 444.09,504.89 446.21,507.01 444.12,509.1" fill="#440154" fill-opacity="0.7" stroke="#fff" stroke-opacity="0.7" stroke-width="0.6"/>
<polygon points="456.11,501.59 453.99,503.71 451.9,501.62 449.81,503.71 447.69,501.59 449.78,499.5 447.69,497.41 449.81,495.29 451.9,497.38 453.99,495.29 456.11,497.41 454.02,499.5" fill="#440154" fill-opacity="0.7" stroke="#fff" stroke-opacity="0.7" stroke-width="0.6"/>
<polygon points="456.11,501.59 453.99,503.71 451.9,501.62 449.81,503.71 447.69,501.59 449.78,499.5 447.69,497.41 449.81,495.29 451.9,497.38 453.99,495.29 456.11,497.41 454.02,499.5" fill="#440154" fill-opacity="0.7" stroke="#fff" stroke-opacity="0.7" stroke-width="0.6"/>
<polygon points="508.71,501.59 506.59,503.71 504.5,501.62 502.41,503.71 500.29,501.59 502.38,499.5 500.29,497.41 502.41,495.29 504.5,497.38 506.59,495.29 508.71,497.41 506.62,499.5" fill="#440154" fill-opacity="0.7" stroke="#fff" stroke-opacity="0.7" stroke-width="0.6"/>
<polygon points="508.71,501.59 506.59,503.71 504.5,501.62 502.41,503.71 500.29,501.59 502.38,499.5 500.29,497.41 502.41,495.29 504.5,497.38 506.59,495.29 508.71,497.41 506.62,499.5" fill="#440154" fill-opacity="0.7" stroke="#fff" stroke-opacity="0.7" stroke-width="0.6"/>
<polygon points="536.21,501.89 534.09,504.01 532,501.92 529.91,504.01 527.79,501.89 529.88,499.8 527.79,497.71 529.91,495.59 532,497.68 534.09,495.59 536.21,497.71 534.12,499.8" fill="#440154" fill-opacity="0.7" stroke="#fff" stroke-opacity="0.7" stroke-width="0.6"/>
<polygon points="536.21,501.89 534.09,504.01 532,501.92 529.91,504.01 527.79,501.89 529.88,499.8 527.79,497.71 529.91,495.59 532,497.68 534.09,495.59 536.21,497.71 534.12,499.8" fill="#440154" fill-opacity="0.7" stroke="#fff" stroke-opacity="0.7" stroke-width="0.6"/>
<polygon points="555.01,501.59 552.89,503.71 550.8,501.62 548.71,503.71 546.59,501.59 548.68,499.5 546.59,497.41 548.71,495.29 550.8,497.38 552.89,495.29 555.01,497.41 552.92,499.5" fill="#440154" fill-opacity="0.7" stroke="#fff" stroke-opacity="0.7" stroke-width="0.6"/>
<polygon points="555.01,501.59 552.89,503.71 550.8,501.62 548.71,503.71 546.59,501.59 548.68,499.5 546.59,497.41 548.71,495.29 550.8,497.38 552.89,495.29 555.01,497.41 552.92,499.5" fill="#440154" fill-opacity="0.7" stroke="#fff" stroke-opacity="0.7" stroke-width="0.6"/>
<polygon points="574.21,501.59 572.09,503.71 570,501.62 567.91,503.71 565.79,501.59 567.88,499.5 565.79,497.41 567.91,495.29 570,497.38 572.09,495.29 574.21,497.41 572.12,499.5" fill="#440154" fill-opacity="0.7" stroke="#fff" stroke-opacity="0.7" stroke-width="0.6"/>
<polygon points="574.21,501.59 572.09,503.71 570,501.62 567.91,503.71 565.79,501.59 567.88,499.5 565.79,497.41 567.91,495.29 570,497.38 572.09,495.29 574.21,497.41 572.12,499.5" fill="#440154" fill-opacity="0.7" stroke="#fff" stroke-opacity="0.7" stroke-width="0.6"/>
<polygon points="577.71,500.99 575.59,503.11 573.5,501.02 571.41,503.11 569.29,500.99 571.38,498.9 569.29,496.81 571.41,494.69 573.5,496.78 575.59,494.69 577.71,496.81 575.62,498.9" fill="#440154" fill-opacity="0.7" stroke="#fff" stroke-opacity="0.7" stroke-width="0.6"/>
<polygon points="577.71,500.99 575.59,503.11 573.5,501.02 571.41,503.11 569.29,500.99 571.38,498.9 569.29,496.81 571.41,494.69 573.5,496.78 575.59,494.69 577.71,496.81 575.62,498.9" fill="#440154" fill-opacity="0.7" stroke="#fff" stroke-opacity="0.7" stroke-width="0.6"/>
<polygon points="573.61,503.59 571.49,505.71 569.4,503.62 567.31,505.71 565.19,503.59 567.28,501.5 565.19,499.41 567.31,497.29 569.4,499.38 571.49,497.29 573.61,499.41 571.52,501.5" fill="#440154" fill-opacity="0.7" stroke="#fff" stroke-opacity="0.7" stroke-width="0.6"/>
<polygon points="573.61,503.59 571.49,505.71 569.4,503.62 567.31,505.71 565.19,503.59 567.28,501.5 565.19,499.41 567.31,497.29 569.4,499.38 571.49,497.29 573.61,499.41 571.52,501.5" fill="#440154" fill-opacity="0.7" stroke="#fff" stroke-opacity="0.7" stroke-width="0.6"/>
<polygon points="611.11,501.59 608.99,503.71 606.9,501.62 604.81,503.71 602.69,501.59 604.78,499.5 602.69,497.41 604.81,495.29 606.9,497.38 608.99,495.29 611.11,497.41 609.02,499.5" fill="#440154" fill-opacity="0.7" stroke="#fff" stroke-opacity="0.7" stroke-width="0.6"/>
<polygon points="611.11,501.59 608.99,503.71 606.9,501.62 604.81,503.71 602.69,501.59 604.78,499.5 602.69,497.41 604.81,495.29 606.9,497.38 608.99,495.29 611.11,497.41 609.02,499.5" fill="#440154" fill-opacity="0.7" stroke="#fff" stroke-opacity="0.7" stroke-width="0.6"/>
<polygon points="624.61,501.59 622.49,503.71 620.4,501.62 618.31,503.71 616.19,501.59 618.28,499.5 616.19,497.41 618.31,495.29 620.4,497.38 622.49,495.29 624.61,497.41 622.52,499.5" fill="#440154" fill-opacity="0.7" stroke="#fff" stroke-opacity="0.7" stroke-width="0.6"/>
<polygon points="624.61,501.59 622.49,503.71 620.4,501.62 618.31,503.71 616.19,501.59 618.28,499.5 616.19,497.41 618.31,495.29 620.4,497.38 622.49,495.29 624.61,497.41 622.52,499.5" fill="#440154" fill-opacity="0.7" stroke="#fff" stroke-opacity="0.7" stroke-width="0.6"/>
<polygon points="635.11,501.59 632.99,503.71 630.9,501.62 628.81,503.71 626.69,501.59 628.78,499.5 626.69,497.41 628.81,495.29 630.9,497.38 632.99,495.29 635.11,497.41 633.02,499.5" fill="#440154" fill-opacity="0.7" stroke="#fff" stroke-opacity="0.7" stroke-width="0.6"/>
<polygon points="635.11,501.59 632.99,503.71 630.9,501.62 628.81,503.71 626.69,501.59 628.78,499.5 626.69,497.41 628.81,495.29 630.9,497.38 632.99,495.29 635.11,497.41 633.02,499.5" fill="#440154" fill-opacity="0.7" stroke="#fff" stroke-opacity="0.7" stroke-width="0.6"/>
<polygon points="642.41,501.59 640.29,503.71 638.2,501.62 636.11,503.71 633.99,501.59 636.08,499.5 633.99,497.41 636.11,495.29 638.2,497.38 640.29,495.29 642.41,497.41 640.32,499.5" fill="#440154" fill-opacity="0.7" stroke="#fff" stroke-opacity="0.7" stroke-width="0.6"/>
<polygon points="642.41,501.59 640.29,503.71 638.2,501.62 636.11,503.71 633.99,501.59 636.08,499.5 633.99,497.41 636.11,495.29 638.2,497.38 640.29,495.29 642.41,497.41 640.32,499.5" fill="#440154" fill-opacity="0.7" stroke="#fff" stroke-opacity="0.7" stroke-width="0.6"/>
<polygon points="650.31,498.49 648.19,500.61 646.1,498.52 644.01,500.61 641.89,498.49 643.98,496.4 641.89,494.31 644.01,492.19 646.1,494.28 648.19,492.19 650.31,494.31 648.22,496.4" fill="#440154" fill-opacity="0.7" stroke="#fff" stroke-opacity="0.7" stroke-width="0.6"/>
<polygon points="649.41,502.99 647.29,505.11 645.2,503.02 643.11,505.11 640.99,502.99 643.08,500.9 640.99,498.81 643.11,496.69 645.2,498.78 647.29,496.69 649.41,498.81 647.32,500.9" fill="#440154" fill-opacity="0.7" stroke="#fff" stroke-opacity="0.7" stroke-width="0.6"/>
<polygon points="649.41,502.99 647.29,505.11 645.2,503.02 643.11,505.11 640.99,502.99 643.08,500.9 640.99,498.81 643.11,496.69 645.2,498.78 647.29,496.69 649.41,498.81 647.32,500.9" fill="#440154" fill-opacity="0.7" stroke="#fff" stroke-opacity="0.7" stroke-width="0.6"/>
<polygon points="655.81,502.99 653.69,505.11 651.6,503.02 649.51,505.11 647.39,502.99 649.48,500.9 647.39,498.81 649.51,496.69 651.6,498.78 653.69,496.69 655.81,498.81 653.72,500.9" fill="#440154" fill-opacity="0.7" stroke="#fff" stroke-opacity="0.7" stroke-width="0.6"/>
<rect x="619.2" y="318.1" width="64.2" height="161.6" rx="4.5" ry="4.5" fill="#fff" fill-opacity="0.8" stroke="#999" stroke-width="1.4"/>
<defs><linearGradient id="vir" x1="0" y1="1" x2="0" y2="0"><stop offset="0.0" stop-color="#390a44"/><stop offset="0.1" stop-color="#432a63"/><stop offset="0.2" stop-color="#444675"/><stop offset="0.3" stop-color="#3f5d7d"/><stop offset="0.4" stop-color="#3b7281"/><stop offset="0.5" stop-color="#388783"/><stop offset="0.6" stop-color="#3d9b82"/><stop offset="0.7" stop-color="#5bb17a"/><stop offset="0.8" stop-color="#88c56b"/><stop offset="0.9" stop-color="#bed654"/><stop offset="1.0" stop-color="#f2e25b"/></linearGradient></defs>
<rect x="645.6" y="327.1" width="8.8" height="112.2" fill="url(#vir)" stroke="#000" stroke-width="0.9"/>
<line x1="654.4" y1="327.1" x2="657.8" y2="327.1" stroke="#000" stroke-width="0.9"/>
<text x="661.65" y="330.8" font-size="10.7" stroke="#000" stroke-width="0.15" fill="#000" textLength="12.32" lengthAdjust="spacingAndGlyphs">42</text>
<line x1="654.4" y1="351" x2="657.8" y2="351" stroke="#000" stroke-width="0.9"/>
<text x="661.33" y="354.7" font-size="10.7" stroke="#000" stroke-width="0.15" fill="#000" textLength="12.61" lengthAdjust="spacingAndGlyphs">24</text>
<line x1="654.4" y1="380.3" x2="657.8" y2="380.3" stroke="#000" stroke-width="0.9"/>
<text x="661.06" y="384" font-size="10.7" stroke="#000" stroke-width="0.15" fill="#000" textLength="12.28" lengthAdjust="spacingAndGlyphs">12</text>
<line x1="654.4" y1="409.6" x2="657.8" y2="409.6" stroke="#000" stroke-width="0.9"/>
<text x="661.33" y="413.3" font-size="10.7" stroke="#000" stroke-width="0.15" fill="#000" textLength="6.21" lengthAdjust="spacingAndGlyphs">6</text>
<line x1="654.4" y1="439.3" x2="657.8" y2="439.3" stroke="#000" stroke-width="0.9"/>
<text x="661.51" y="443" font-size="10.7" stroke="#000" stroke-width="0.15" fill="#000" textLength="5.77" lengthAdjust="spacingAndGlyphs">3</text>
<text transform="translate(634.2,432.19) rotate(-90)" x="0" y="0" font-size="10.7" font-weight="bold" stroke="#000" stroke-width="0.23" fill="#000" textLength="59.66" lengthAdjust="spacingAndGlyphs">Frequency</text>
<text transform="translate(634.2,368.57) rotate(-90)" x="0" y="0" font-size="10.7" font-weight="bold" stroke="#000" stroke-width="0.23" fill="#000" textLength="30.17" lengthAdjust="spacingAndGlyphs">(kHz)</text>
<circle cx="636.6" cy="454.4" r="2.7" fill="#808080"/>
<path d="M634.4,467.2L638.8,471.6M634.4,471.6L638.8,467.2" stroke="#808080" stroke-width="1.4"/>
<text x="648.62" y="458" font-size="10.7" stroke="#000" stroke-width="0.15" fill="#000" textLength="22.95" lengthAdjust="spacingAndGlyphs">tone</text>
<text x="648.3" y="472.6" font-size="10.7" stroke="#000" stroke-width="0.15" fill="#000" textLength="22.77" lengthAdjust="spacingAndGlyphs">click</text>
</svg>
</body></html>
